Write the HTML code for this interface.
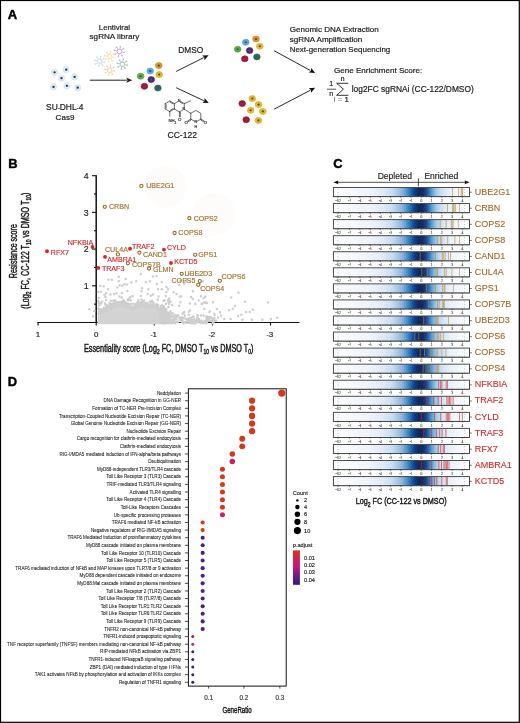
<!DOCTYPE html>
<html><head><meta charset="utf-8"><style>
html,body{margin:0;padding:0;background:#fff;}
body{width:520px;height:723px;overflow:hidden;position:relative;}
svg{position:absolute;left:0;top:0;will-change:transform;}
text{font-family:"Liberation Sans",sans-serif;}
</style></head><body>
<svg width="520" height="723" viewBox="0 0 520 723" font-family="Liberation Sans, sans-serif">
<rect x="0" y="0" width="520" height="723" fill="#fff"/>
<text x="7.70" y="19.00" font-size="13.0" fill="#000" text-anchor="start" stroke="#000" stroke-width="0.45" font-weight="bold" >A</text>
<circle cx="54.6" cy="72.3" r="3.1" fill="#dfeaf8" stroke="#c3d8f0" stroke-width="0.5"/>
<circle cx="54.6" cy="72.3" r="1.15" fill="#262b40"/>
<circle cx="66.2" cy="69.7" r="3.1" fill="#dfeaf8" stroke="#c3d8f0" stroke-width="0.5"/>
<circle cx="66.2" cy="69.7" r="1.15" fill="#262b40"/>
<circle cx="61.5" cy="78.2" r="3.1" fill="#dfeaf8" stroke="#c3d8f0" stroke-width="0.5"/>
<circle cx="61.5" cy="78.2" r="1.15" fill="#262b40"/>
<circle cx="74.6" cy="76.9" r="3.1" fill="#dfeaf8" stroke="#c3d8f0" stroke-width="0.5"/>
<circle cx="74.6" cy="76.9" r="1.15" fill="#262b40"/>
<circle cx="53.5" cy="86.9" r="3.1" fill="#dfeaf8" stroke="#c3d8f0" stroke-width="0.5"/>
<circle cx="53.5" cy="86.9" r="1.15" fill="#262b40"/>
<circle cx="66.9" cy="85.8" r="3.1" fill="#dfeaf8" stroke="#c3d8f0" stroke-width="0.5"/>
<circle cx="66.9" cy="85.8" r="1.15" fill="#262b40"/>
<circle cx="77.7" cy="87.7" r="3.1" fill="#dfeaf8" stroke="#c3d8f0" stroke-width="0.5"/>
<circle cx="77.7" cy="87.7" r="1.15" fill="#262b40"/>
<text x="64.70" y="110.20" font-size="8.3" fill="#222" text-anchor="middle" stroke="#222" stroke-width="0.2" textLength="37.30" lengthAdjust="spacingAndGlyphs" >SU<tspan font-size="6" dy="-0.6">-</tspan><tspan dy="0.6">DHL</tspan><tspan font-size="6" dy="-0.6">-</tspan><tspan dy="0.6">4</tspan></text>
<text x="65.00" y="120.20" font-size="8.1" fill="#222" text-anchor="middle" stroke="#222" stroke-width="0.2" textLength="18.80" lengthAdjust="spacingAndGlyphs" >Cas9</text>
<text x="114.40" y="29.60" font-size="8.0" fill="#222" text-anchor="middle" stroke="#222" stroke-width="0.2" textLength="31.20" lengthAdjust="spacingAndGlyphs" >Lentiviral</text>
<text x="114.40" y="38.80" font-size="8.1" fill="#222" text-anchor="middle" stroke="#222" stroke-width="0.2" textLength="49.70" lengthAdjust="spacingAndGlyphs" >sgRNA library</text>
<circle cx="99.8" cy="61.3" r="2.3" fill="none" stroke="#a9cdef" stroke-width="0.6"/>
<path d="M102.05 61.76L104.31 62.21M104.31 62.21l0.83 -0.35M104.31 62.21l0.63 0.65M101.07 63.22L102.34 65.13M102.34 65.13l0.83 0.34M102.34 65.13l-0.01 0.90M99.34 63.55L98.89 65.81M98.89 65.81l0.35 0.83M98.89 65.81l-0.65 0.63M97.88 62.57L95.97 63.84M95.97 63.84l-0.34 0.83M95.97 63.84l-0.90 -0.01M97.55 60.84L95.29 60.39M95.29 60.39l-0.83 0.35M95.29 60.39l-0.63 -0.65M98.53 59.38L97.26 57.47M97.26 57.47l-0.83 -0.34M97.26 57.47l0.01 -0.90M100.26 59.05L100.71 56.79M100.71 56.79l-0.35 -0.83M100.71 56.79l0.65 -0.63M101.72 60.03L103.63 58.76M103.63 58.76l0.34 -0.83M103.63 58.76l0.90 0.01" stroke="#a9cdef" stroke-width="0.5" fill="none" stroke-linecap="round"/>
<circle cx="109.6" cy="56.7" r="2.3" fill="none" stroke="#f0d28a" stroke-width="0.6"/>
<path d="M111.85 57.16L114.11 57.61M114.11 57.61l0.83 -0.35M114.11 57.61l0.63 0.65M110.87 58.62L112.14 60.53M112.14 60.53l0.83 0.34M112.14 60.53l-0.01 0.90M109.14 58.95L108.69 61.21M108.69 61.21l0.35 0.83M108.69 61.21l-0.65 0.63M107.68 57.97L105.77 59.24M105.77 59.24l-0.34 0.83M105.77 59.24l-0.90 -0.01M107.35 56.24L105.09 55.79M105.09 55.79l-0.83 0.35M105.09 55.79l-0.63 -0.65M108.33 54.78L107.06 52.87M107.06 52.87l-0.83 -0.34M107.06 52.87l0.01 -0.90M110.06 54.45L110.51 52.19M110.51 52.19l-0.35 -0.83M110.51 52.19l0.65 -0.63M111.52 55.43L113.43 54.16M113.43 54.16l0.34 -0.83M113.43 54.16l0.90 0.01" stroke="#f0d28a" stroke-width="0.5" fill="none" stroke-linecap="round"/>
<circle cx="119.4" cy="51.5" r="2.3" fill="none" stroke="#aa8fbe" stroke-width="0.6"/>
<path d="M121.65 51.96L123.91 52.41M123.91 52.41l0.83 -0.35M123.91 52.41l0.63 0.65M120.67 53.42L121.94 55.33M121.94 55.33l0.83 0.34M121.94 55.33l-0.01 0.90M118.94 53.75L118.49 56.01M118.49 56.01l0.35 0.83M118.49 56.01l-0.65 0.63M117.48 52.77L115.57 54.04M115.57 54.04l-0.34 0.83M115.57 54.04l-0.90 -0.01M117.15 51.04L114.89 50.59M114.89 50.59l-0.83 0.35M114.89 50.59l-0.63 -0.65M118.13 49.58L116.86 47.67M116.86 47.67l-0.83 -0.34M116.86 47.67l0.01 -0.90M119.86 49.25L120.31 46.99M120.31 46.99l-0.35 -0.83M120.31 46.99l0.65 -0.63M121.32 50.23L123.23 48.96M123.23 48.96l0.34 -0.83M123.23 48.96l0.90 0.01" stroke="#aa8fbe" stroke-width="0.5" fill="none" stroke-linecap="round"/>
<circle cx="122.3" cy="64.2" r="2.3" fill="none" stroke="#86a596" stroke-width="0.6"/>
<path d="M124.55 64.66L126.81 65.11M126.81 65.11l0.83 -0.35M126.81 65.11l0.63 0.65M123.57 66.12L124.84 68.03M124.84 68.03l0.83 0.34M124.84 68.03l-0.01 0.90M121.84 66.45L121.39 68.71M121.39 68.71l0.35 0.83M121.39 68.71l-0.65 0.63M120.38 65.47L118.47 66.74M118.47 66.74l-0.34 0.83M118.47 66.74l-0.90 -0.01M120.05 63.74L117.79 63.29M117.79 63.29l-0.83 0.35M117.79 63.29l-0.63 -0.65M121.03 62.28L119.76 60.37M119.76 60.37l-0.83 -0.34M119.76 60.37l0.01 -0.90M122.76 61.95L123.21 59.69M123.21 59.69l-0.35 -0.83M123.21 59.69l0.65 -0.63M124.22 62.93L126.13 61.66M126.13 61.66l0.34 -0.83M126.13 61.66l0.90 0.01" stroke="#86a596" stroke-width="0.5" fill="none" stroke-linecap="round"/>
<circle cx="109.6" cy="70.2" r="2.3" fill="none" stroke="#f0bc84" stroke-width="0.6"/>
<path d="M111.85 70.66L114.11 71.11M114.11 71.11l0.83 -0.35M114.11 71.11l0.63 0.65M110.87 72.12L112.14 74.03M112.14 74.03l0.83 0.34M112.14 74.03l-0.01 0.90M109.14 72.45L108.69 74.71M108.69 74.71l0.35 0.83M108.69 74.71l-0.65 0.63M107.68 71.47L105.77 72.74M105.77 72.74l-0.34 0.83M105.77 72.74l-0.90 -0.01M107.35 69.74L105.09 69.29M105.09 69.29l-0.83 0.35M105.09 69.29l-0.63 -0.65M108.33 68.28L107.06 66.37M107.06 66.37l-0.83 -0.34M107.06 66.37l0.01 -0.90M110.06 67.95L110.51 65.69M110.51 65.69l-0.35 -0.83M110.51 65.69l0.65 -0.63M111.52 68.93L113.43 67.66M113.43 67.66l0.34 -0.83M113.43 67.66l0.90 0.01" stroke="#f0bc84" stroke-width="0.5" fill="none" stroke-linecap="round"/>
<line x1="89.8" y1="80.2" x2="126.80" y2="80.20" stroke="#222" stroke-width="1.0"/>
<polygon points="132.3,80.2 126.30,82.80 127.50,80.20 126.30,77.60" fill="#222"/>
<line x1="176.2" y1="71.4" x2="203.68" y2="57.66" stroke="#111" stroke-width="0.9"/>
<polygon points="208.6,55.2 204.40,60.21 204.31,57.35 202.07,55.56" fill="#111"/>
<line x1="176.2" y1="87.7" x2="203.82" y2="100.66" stroke="#111" stroke-width="0.9"/>
<polygon points="208.8,103.0 202.26,102.80 204.45,100.96 204.47,98.10" fill="#111"/>
<line x1="274.1" y1="50.7" x2="310.37" y2="70.47" stroke="#111" stroke-width="0.9"/>
<polygon points="315.2,73.1 308.69,72.51 310.99,70.80 311.18,67.95" fill="#111"/>
<line x1="274.1" y1="109.2" x2="310.33" y2="90.25" stroke="#111" stroke-width="0.9"/>
<polygon points="315.2,87.7 311.09,92.78 310.95,89.92 308.68,88.18" fill="#111"/>
<ellipse cx="158.8" cy="65.6" rx="3.30" ry="3.01" fill="#e8921e" stroke="#e8921e" stroke-width="0.6"/>
<ellipse cx="158.8" cy="65.6" rx="3.30" ry="3.01" fill="none" stroke="#000" stroke-opacity="0.12" stroke-width="0.6"/>
<ellipse cx="158.8" cy="65.6" rx="1.25" ry="1.05" fill="#3a5282"/>
<ellipse cx="150.2" cy="71.0" rx="3.30" ry="3.01" fill="#55ace2" stroke="#55ace2" stroke-width="0.6"/>
<ellipse cx="150.2" cy="71.0" rx="3.30" ry="3.01" fill="none" stroke="#000" stroke-opacity="0.12" stroke-width="0.6"/>
<ellipse cx="150.2" cy="71.0" rx="1.25" ry="1.05" fill="#3a5282"/>
<ellipse cx="159.2" cy="74.6" rx="3.30" ry="3.01" fill="#f2b91c" stroke="#f2b91c" stroke-width="0.6"/>
<ellipse cx="159.2" cy="74.6" rx="3.30" ry="3.01" fill="none" stroke="#000" stroke-opacity="0.12" stroke-width="0.6"/>
<ellipse cx="159.2" cy="74.6" rx="1.25" ry="1.05" fill="#3a5282"/>
<ellipse cx="140.6" cy="76.2" rx="3.30" ry="3.01" fill="#5fae3c" stroke="#5fae3c" stroke-width="0.6"/>
<ellipse cx="140.6" cy="76.2" rx="3.30" ry="3.01" fill="none" stroke="#000" stroke-opacity="0.12" stroke-width="0.6"/>
<ellipse cx="140.6" cy="76.2" rx="1.25" ry="1.05" fill="#3a5282"/>
<ellipse cx="151.2" cy="79.6" rx="3.30" ry="3.01" fill="#5a2670" stroke="#5a2670" stroke-width="0.6"/>
<ellipse cx="151.2" cy="79.6" rx="3.30" ry="3.01" fill="none" stroke="#000" stroke-opacity="0.12" stroke-width="0.6"/>
<ellipse cx="151.2" cy="79.6" rx="1.25" ry="1.05" fill="#3a5282"/>
<ellipse cx="144.4" cy="86.3" rx="3.30" ry="3.01" fill="#b0112e" stroke="#b0112e" stroke-width="0.6"/>
<ellipse cx="144.4" cy="86.3" rx="3.30" ry="3.01" fill="none" stroke="#000" stroke-opacity="0.12" stroke-width="0.6"/>
<ellipse cx="144.4" cy="86.3" rx="1.25" ry="1.05" fill="#3a5282"/>
<ellipse cx="157.9" cy="88.1" rx="3.30" ry="3.01" fill="#2c6a52" stroke="#2c6a52" stroke-width="0.6"/>
<ellipse cx="157.9" cy="88.1" rx="3.30" ry="3.01" fill="none" stroke="#000" stroke-opacity="0.12" stroke-width="0.6"/>
<ellipse cx="157.9" cy="88.1" rx="1.25" ry="1.05" fill="#3a5282"/>
<ellipse cx="256" cy="39" rx="3.30" ry="3.01" fill="#e8921e" stroke="#e8921e" stroke-width="0.6"/>
<ellipse cx="256" cy="39" rx="3.30" ry="3.01" fill="none" stroke="#000" stroke-opacity="0.12" stroke-width="0.6"/>
<ellipse cx="256" cy="39" rx="1.25" ry="1.05" fill="#3a5282"/>
<ellipse cx="245.8" cy="42.3" rx="3.30" ry="3.01" fill="#55ace2" stroke="#55ace2" stroke-width="0.6"/>
<ellipse cx="245.8" cy="42.3" rx="3.30" ry="3.01" fill="none" stroke="#000" stroke-opacity="0.12" stroke-width="0.6"/>
<ellipse cx="245.8" cy="42.3" rx="1.25" ry="1.05" fill="#3a5282"/>
<ellipse cx="259.8" cy="46.2" rx="3.30" ry="3.01" fill="#f2b91c" stroke="#f2b91c" stroke-width="0.6"/>
<ellipse cx="259.8" cy="46.2" rx="3.30" ry="3.01" fill="none" stroke="#000" stroke-opacity="0.12" stroke-width="0.6"/>
<ellipse cx="259.8" cy="46.2" rx="1.25" ry="1.05" fill="#3a5282"/>
<ellipse cx="237.7" cy="49.2" rx="3.30" ry="3.01" fill="#5fae3c" stroke="#5fae3c" stroke-width="0.6"/>
<ellipse cx="237.7" cy="49.2" rx="3.30" ry="3.01" fill="none" stroke="#000" stroke-opacity="0.12" stroke-width="0.6"/>
<ellipse cx="237.7" cy="49.2" rx="1.25" ry="1.05" fill="#3a5282"/>
<ellipse cx="249.6" cy="50.6" rx="3.30" ry="3.01" fill="#5a2670" stroke="#5a2670" stroke-width="0.6"/>
<ellipse cx="249.6" cy="50.6" rx="3.30" ry="3.01" fill="none" stroke="#000" stroke-opacity="0.12" stroke-width="0.6"/>
<ellipse cx="249.6" cy="50.6" rx="1.25" ry="1.05" fill="#3a5282"/>
<ellipse cx="244.8" cy="58.8" rx="3.30" ry="3.01" fill="#b0112e" stroke="#b0112e" stroke-width="0.6"/>
<ellipse cx="244.8" cy="58.8" rx="3.30" ry="3.01" fill="none" stroke="#000" stroke-opacity="0.12" stroke-width="0.6"/>
<ellipse cx="244.8" cy="58.8" rx="1.25" ry="1.05" fill="#3a5282"/>
<ellipse cx="256.9" cy="56.9" rx="3.30" ry="3.01" fill="#2c6a52" stroke="#2c6a52" stroke-width="0.6"/>
<ellipse cx="256.9" cy="56.9" rx="3.30" ry="3.01" fill="none" stroke="#000" stroke-opacity="0.12" stroke-width="0.6"/>
<ellipse cx="256.9" cy="56.9" rx="1.25" ry="1.05" fill="#3a5282"/>
<ellipse cx="252.3" cy="98.6" rx="3.30" ry="3.01" fill="#f2b91c" stroke="#f2b91c" stroke-width="0.6"/>
<ellipse cx="252.3" cy="98.6" rx="3.30" ry="3.01" fill="none" stroke="#000" stroke-opacity="0.12" stroke-width="0.6"/>
<ellipse cx="252.3" cy="98.6" rx="1.25" ry="1.05" fill="#3a5282"/>
<ellipse cx="242.2" cy="103.6" rx="3.30" ry="3.01" fill="#b0112e" stroke="#b0112e" stroke-width="0.6"/>
<ellipse cx="242.2" cy="103.6" rx="3.30" ry="3.01" fill="none" stroke="#000" stroke-opacity="0.12" stroke-width="0.6"/>
<ellipse cx="242.2" cy="103.6" rx="1.25" ry="1.05" fill="#3a5282"/>
<ellipse cx="258.6" cy="104.6" rx="3.30" ry="3.01" fill="#f2b91c" stroke="#f2b91c" stroke-width="0.6"/>
<ellipse cx="258.6" cy="104.6" rx="3.30" ry="3.01" fill="none" stroke="#000" stroke-opacity="0.12" stroke-width="0.6"/>
<ellipse cx="258.6" cy="104.6" rx="1.25" ry="1.05" fill="#3a5282"/>
<ellipse cx="250.7" cy="110.3" rx="3.30" ry="3.01" fill="#f2b91c" stroke="#f2b91c" stroke-width="0.6"/>
<ellipse cx="250.7" cy="110.3" rx="3.30" ry="3.01" fill="none" stroke="#000" stroke-opacity="0.12" stroke-width="0.6"/>
<ellipse cx="250.7" cy="110.3" rx="1.25" ry="1.05" fill="#3a5282"/>
<ellipse cx="262.8" cy="111.4" rx="3.30" ry="3.01" fill="#f2b91c" stroke="#f2b91c" stroke-width="0.6"/>
<ellipse cx="262.8" cy="111.4" rx="3.30" ry="3.01" fill="none" stroke="#000" stroke-opacity="0.12" stroke-width="0.6"/>
<ellipse cx="262.8" cy="111.4" rx="1.25" ry="1.05" fill="#3a5282"/>
<ellipse cx="246.2" cy="119.7" rx="3.30" ry="3.01" fill="#b0112e" stroke="#b0112e" stroke-width="0.6"/>
<ellipse cx="246.2" cy="119.7" rx="3.30" ry="3.01" fill="none" stroke="#000" stroke-opacity="0.12" stroke-width="0.6"/>
<ellipse cx="246.2" cy="119.7" rx="1.25" ry="1.05" fill="#3a5282"/>
<ellipse cx="258.4" cy="120.4" rx="3.30" ry="3.01" fill="#f2b91c" stroke="#f2b91c" stroke-width="0.6"/>
<ellipse cx="258.4" cy="120.4" rx="3.30" ry="3.01" fill="none" stroke="#000" stroke-opacity="0.12" stroke-width="0.6"/>
<ellipse cx="258.4" cy="120.4" rx="1.25" ry="1.05" fill="#3a5282"/>
<text x="178.20" y="53.00" font-size="8.3" fill="#222" text-anchor="start" stroke="#222" stroke-width="0.2" textLength="25.00" lengthAdjust="spacingAndGlyphs" >DMSO</text>
<polyline points="169.80,101.00 174.39,103.65" stroke="#2a2a2a" stroke-width="0.68" fill="none" stroke-linecap="round"/>
<polyline points="174.39,103.65 174.39,108.95" stroke="#2a2a2a" stroke-width="0.68" fill="none" stroke-linecap="round"/>
<polyline points="174.39,108.95 169.80,111.60" stroke="#2a2a2a" stroke-width="0.68" fill="none" stroke-linecap="round"/>
<polyline points="169.80,111.60 165.21,108.95" stroke="#2a2a2a" stroke-width="0.68" fill="none" stroke-linecap="round"/>
<polyline points="165.21,108.95 165.21,103.65" stroke="#2a2a2a" stroke-width="0.68" fill="none" stroke-linecap="round"/>
<polyline points="165.21,103.65 169.80,101.00" stroke="#2a2a2a" stroke-width="0.68" fill="none" stroke-linecap="round"/>
<polyline points="166.11,104.55 166.11,108.05" stroke="#2a2a2a" stroke-width="0.68" fill="none" stroke-linecap="round"/>
<polyline points="170.13,102.23 173.16,103.98" stroke="#2a2a2a" stroke-width="0.68" fill="none" stroke-linecap="round"/>
<polyline points="173.16,108.62 170.13,110.37" stroke="#2a2a2a" stroke-width="0.68" fill="none" stroke-linecap="round"/>
<polyline points="174.55,103.50 178.27,101.35" stroke="#2a2a2a" stroke-width="0.68" fill="none" stroke-linecap="round"/>
<polyline points="180.53,101.35 184.25,103.50" stroke="#2a2a2a" stroke-width="0.68" fill="none" stroke-linecap="round"/>
<polyline points="180.16,102.18 182.59,103.58" stroke="#2a2a2a" stroke-width="0.68" fill="none" stroke-linecap="round"/>
<polyline points="184.25,103.50 184.25,107.80" stroke="#2a2a2a" stroke-width="0.68" fill="none" stroke-linecap="round"/>
<polyline points="183.12,109.75 179.40,111.90" stroke="#2a2a2a" stroke-width="0.68" fill="none" stroke-linecap="round"/>
<polyline points="179.40,111.90 174.55,109.10" stroke="#2a2a2a" stroke-width="0.68" fill="none" stroke-linecap="round"/>
<polyline points="179.40,111.90 179.40,116.90" stroke="#2a2a2a" stroke-width="0.68" fill="none" stroke-linecap="round"/>
<polyline points="180.30,112.40 180.30,116.70" stroke="#2a2a2a" stroke-width="0.68" fill="none" stroke-linecap="round"/>
<polyline points="184.25,103.50 190.60,100.90" stroke="#2a2a2a" stroke-width="0.68" fill="none" stroke-linecap="round"/>
<polyline points="169.80,111.60 169.80,116.20" stroke="#2a2a2a" stroke-width="0.68" fill="none" stroke-linecap="round"/>
<text x="168.60" y="121.90" font-size="4.2" fill="#333" text-anchor="start" stroke="#333" stroke-width="0.2" >NH</text>
<text x="174.60" y="123.60" font-size="3.0" fill="#333" text-anchor="start" stroke="#333" stroke-width="0.2" >2</text>
<text x="179.60" y="121.00" font-size="4.3" fill="#333" text-anchor="middle" stroke="#333" stroke-width="0.2" >O</text>
<text x="179.00" y="102.40" font-size="3.8" fill="#333" text-anchor="middle" stroke="#333" stroke-width="0.2" >N</text>
<text x="183.80" y="110.30" font-size="3.8" fill="#333" text-anchor="middle" stroke="#333" stroke-width="0.2" >N</text>
<polyline points="185.34,109.80 190.78,113.30" stroke="#2a2a2a" stroke-width="0.68" fill="none" stroke-linecap="round"/>
<polyline points="190.78,113.30 195.80,110.40 200.82,113.30 200.82,119.10" stroke="#2a2a2a" stroke-width="0.68" fill="none" stroke-linecap="round"/>
<polyline points="200.82,119.10 196.93,121.35" stroke="#2a2a2a" stroke-width="0.68" fill="none" stroke-linecap="round"/>
<polyline points="194.67,121.35 190.78,119.10" stroke="#2a2a2a" stroke-width="0.68" fill="none" stroke-linecap="round"/>
<polyline points="190.78,119.10 190.78,113.30" stroke="#2a2a2a" stroke-width="0.68" fill="none" stroke-linecap="round"/>
<polyline points="190.78,119.10 187.58,120.99" stroke="#2a2a2a" stroke-width="0.68" fill="none" stroke-linecap="round"/>
<polyline points="190.71,120.21 188.03,121.79" stroke="#2a2a2a" stroke-width="0.68" fill="none" stroke-linecap="round"/>
<polyline points="200.82,119.10 204.02,120.99" stroke="#2a2a2a" stroke-width="0.68" fill="none" stroke-linecap="round"/>
<polyline points="200.89,120.21 203.57,121.79" stroke="#2a2a2a" stroke-width="0.68" fill="none" stroke-linecap="round"/>
<text x="186.08" y="124.10" font-size="4.3" fill="#333" text-anchor="middle" stroke="#333" stroke-width="0.2" >O</text>
<text x="205.52" y="124.10" font-size="4.3" fill="#333" text-anchor="middle" stroke="#333" stroke-width="0.2" >O</text>
<text x="195.80" y="123.40" font-size="3.8" fill="#333" text-anchor="middle" stroke="#333" stroke-width="0.2" >N</text>
<text x="195.80" y="128.40" font-size="3.6" fill="#333" text-anchor="middle" stroke="#333" stroke-width="0.2" >H</text>
<text x="182.20" y="137.70" font-size="8.5" fill="#222" text-anchor="middle" stroke="#222" stroke-width="0.2" textLength="29.40" lengthAdjust="spacingAndGlyphs" >CC-122</text>
<text x="289.70" y="32.30" font-size="8.05" fill="#222" text-anchor="start" stroke="#222" stroke-width="0.2" textLength="89.10" lengthAdjust="spacingAndGlyphs" >Genomic DNA Extraction</text>
<text x="289.70" y="42.20" font-size="8.05" fill="#222" text-anchor="start" stroke="#222" stroke-width="0.2" >sgRNA Amplification</text>
<text x="289.70" y="51.70" font-size="8.0" fill="#222" text-anchor="start" stroke="#222" stroke-width="0.2" textLength="100.60" lengthAdjust="spacingAndGlyphs" >Next-generation Sequencing</text>
<text x="334.00" y="73.20" font-size="8.0" fill="#222" text-anchor="start" stroke="#222" stroke-width="0.2" textLength="88.20" lengthAdjust="spacingAndGlyphs" >Gene Enrichment Score:</text>
<text x="331.30" y="86.40" font-size="7.0" fill="#222" text-anchor="middle" stroke="#222" stroke-width="0.2" >1</text>
<line x1="327.0" y1="89.2" x2="336.0" y2="89.2" stroke="#222" stroke-width="0.75"/>
<text x="331.20" y="96.00" font-size="7.0" fill="#222" text-anchor="middle" stroke="#222" stroke-width="0.2" >n</text>
<text x="342.60" y="81.20" font-size="6.8" fill="#222" text-anchor="middle" stroke="#222" stroke-width="0.2" >n</text>
<polyline points="348.2,83.3 336.6,83.3 343.4,89.2 336.6,95.3 348.4,95.3" fill="none" stroke="#222" stroke-width="0.9"/>
<text x="341.30" y="101.80" font-size="7.0" fill="#222" text-anchor="middle" stroke="#222" stroke-width="0.2" textLength="15.00" lengthAdjust="spacingAndGlyphs" ><tspan fill="#777" stroke="#777">i = </tspan>1</text>
<text x="351.70" y="91.90" font-size="8.4" fill="#222" text-anchor="start" stroke="#222" stroke-width="0.2" textLength="122.10" lengthAdjust="spacingAndGlyphs" >log2FC sgRNAi (CC-122/DMSO)</text>
<text x="8.30" y="167.90" font-size="12.9" fill="#000" text-anchor="start" stroke="#000" stroke-width="0.45" font-weight="bold" >B</text>
<circle cx="165.4" cy="186.5" r="21" fill="#fbf8f4" opacity="0.45"/>
<circle cx="213.5" cy="214.5" r="21.5" fill="#fbf8f4" opacity="0.45"/>
<line x1="94.0" y1="304.15" x2="96.2" y2="304.15" stroke="#111" stroke-width="1.1"/>
<line x1="92.0" y1="285.80" x2="96.2" y2="285.80" stroke="#111" stroke-width="1.1"/>
<text x="88.70" y="288.90" font-size="8.8" fill="#222" text-anchor="end" stroke="#222" stroke-width="0.15" >1</text>
<line x1="94.0" y1="267.45" x2="96.2" y2="267.45" stroke="#111" stroke-width="1.1"/>
<line x1="92.0" y1="249.10" x2="96.2" y2="249.10" stroke="#111" stroke-width="1.1"/>
<text x="88.70" y="252.20" font-size="8.8" fill="#222" text-anchor="end" stroke="#222" stroke-width="0.15" >2</text>
<line x1="94.0" y1="230.75" x2="96.2" y2="230.75" stroke="#111" stroke-width="1.1"/>
<line x1="92.0" y1="212.40" x2="96.2" y2="212.40" stroke="#111" stroke-width="1.1"/>
<text x="88.70" y="215.50" font-size="8.8" fill="#222" text-anchor="end" stroke="#222" stroke-width="0.15" >3</text>
<line x1="94.0" y1="194.05" x2="96.2" y2="194.05" stroke="#111" stroke-width="1.1"/>
<line x1="92.0" y1="175.70" x2="96.2" y2="175.70" stroke="#111" stroke-width="1.1"/>
<text x="88.70" y="178.80" font-size="8.8" fill="#222" text-anchor="end" stroke="#222" stroke-width="0.15" >4</text>
<line x1="96.2" y1="175.3" x2="96.2" y2="323.1" stroke="#111" stroke-width="1.5"/>
<line x1="37.3" y1="322.5" x2="299.4" y2="322.5" stroke="#111" stroke-width="1.2"/>
<line x1="38.10" y1="322.5" x2="38.10" y2="325.5" stroke="#111" stroke-width="1.1"/>
<text x="38.10" y="337.30" font-size="8.0" fill="#222" text-anchor="middle" stroke="#222" stroke-width="0.15" >1</text>
<line x1="96.20" y1="322.5" x2="96.20" y2="325.5" stroke="#111" stroke-width="1.1"/>
<text x="96.20" y="337.30" font-size="8.0" fill="#222" text-anchor="middle" stroke="#222" stroke-width="0.15" >0</text>
<line x1="154.30" y1="322.5" x2="154.30" y2="325.5" stroke="#111" stroke-width="1.1"/>
<text x="153.70" y="337.30" font-size="8.0" fill="#222" text-anchor="middle" stroke="#222" stroke-width="0.15" ><tspan font-size="6.5">-</tspan>1</text>
<line x1="212.40" y1="322.5" x2="212.40" y2="325.5" stroke="#111" stroke-width="1.1"/>
<text x="211.80" y="337.30" font-size="8.0" fill="#222" text-anchor="middle" stroke="#222" stroke-width="0.15" ><tspan font-size="6.5">-</tspan>2</text>
<line x1="270.50" y1="322.5" x2="270.50" y2="325.5" stroke="#111" stroke-width="1.1"/>
<text x="269.90" y="337.30" font-size="8.0" fill="#222" text-anchor="middle" stroke="#222" stroke-width="0.15" ><tspan font-size="6.5">-</tspan>3</text>
<polygon points="97.6,318 98.6,313 100,311 102,312.6 107.5,309.2 114.2,306.5 121,305.2 127.6,307.2 134.4,308.6 141.1,305.2 147.8,307.2 154.6,306.5 161.3,309.9 165,312 168,316 171,320 173,323.8 173,324.2 97.6,324.2" fill="#d3d3d3"/>
<path d="M130.8 304.0h0M131.7 307.0h0M134.8 308.0h0M135.1 308.3h0M143.6 306.5h0M120.0 305.2h0M104.7 310.5h0M101.2 309.6h0M168.9 314.9h0M142.5 305.7h0M109.5 306.5h0M102.5 312.8h0M111.9 308.2h0M131.6 308.3h0M129.9 307.0h0M144.3 304.7h0M134.2 308.1h0M118.2 304.5h0M170.0 315.3h0M149.2 307.7h0M120.9 305.8h0M103.3 310.8h0M153.4 304.0h0M126.0 305.0h0M167.2 315.7h0M113.3 307.6h0M163.7 306.0h0M126.8 306.6h0M103.5 309.9h0M117.6 303.9h0M104.5 309.1h0M152.8 302.6h0M106.7 310.5h0M102.5 312.1h0M155.6 306.6h0M130.4 306.0h0M111.9 308.1h0M144.5 305.9h0M106.6 309.2h0M117.6 305.9h0M168.1 316.3h0M161.9 309.3h0M113.4 304.2h0M144.4 304.3h0M105.4 309.8h0M116.8 306.7h0M153.8 306.5h0M103.5 310.9h0M104.7 310.3h0M141.5 305.3h0M125.0 301.9h0M133.0 307.5h0M139.6 305.8h0M109.3 308.2h0M163.6 311.3h0M111.9 306.7h0M151.4 306.3h0M166.6 314.4h0M161.7 309.1h0M105.7 309.7h0M101.0 311.0h0M148.9 307.5h0M116.7 305.5h0M119.3 303.7h0M110.8 308.5h0M114.6 306.4h0M138.5 305.5h0M118.4 304.1h0M164.2 312.3h0M117.6 306.3h0M130.3 307.3h0M124.8 306.6h0M139.4 305.5h0M162.3 309.8h0M168.8 316.0h0M140.3 303.6h0M108.3 309.3h0M163.7 312.0h0M148.7 307.5h0M144.0 306.8h0M132.9 308.9h0M170.2 317.8h0M103.6 309.0h0M163.0 310.6h0M151.3 306.5h0M164.1 308.5h0M123.5 304.9h0M160.9 306.2h0M128.2 307.0h0M139.4 302.6h0M143.2 304.5h0M142.0 304.3h0M104.0 307.7h0M161.5 305.5h0M150.6 305.0h0M140.0 304.2h0M129.9 308.0h0M152.2 306.8h0M100.3 310.0h0M114.8 305.7h0M148.5 304.9h0M164.5 312.4h0M116.6 305.0h0M147.0 307.6h0M112.8 305.6h0M145.7 303.2h0M130.0 307.0h0M146.1 306.3h0M112.5 304.4h0M164.0 310.6h0M161.6 308.7h0M121.0 304.1h0M108.0 305.6h0M159.3 309.6h0M149.4 306.2h0M110.4 308.3h0M130.6 308.4h0M128.0 306.6h0M143.3 304.7h0M158.6 309.3h0M168.9 317.2h0M100.5 311.9h0M161.0 307.2h0M139.3 306.0h0M120.5 306.0h0M108.0 309.4h0M130.9 304.6h0M115.3 306.5h0M108.3 306.7h0M130.3 307.7h0M143.6 304.5h0M167.2 312.4h0M147.5 307.1h0M111.1 306.2h0M99.0 309.8h0M111.1 307.9h0M117.8 304.7h0M135.7 306.0h0M142.4 306.3h0M155.2 305.4h0M163.4 307.6h0M150.2 305.1h0M107.6 307.0h0M163.7 311.2h0M125.3 303.2h0M155.6 305.9h0M166.2 311.3h0M113.0 307.1h0M150.2 306.4h0M149.9 304.9h0M113.6 302.6h0M168.6 313.9h0M136.9 307.7h0M163.7 310.2h0M159.8 309.4h0M129.9 307.7h0M137.8 307.4h0M100.2 309.5h0M156.5 304.6h0M110.6 307.2h0M122.3 306.1h0M108.9 308.3h0M135.4 308.2h0M147.8 303.8h0M166.3 309.2h0M104.4 311.7h0M114.1 305.5h0M150.7 307.4h0M144.2 302.7h0M138.5 306.7h0M120.6 302.9h0M163.0 308.8h0M113.2 304.3h0M135.9 304.0h0M139.5 306.0h0M134.4 306.8h0M141.8 300.5h0M135.4 307.9h0M127.0 306.9h0M133.6 306.5h0M148.0 305.5h0M128.0 307.0h0M167.1 314.0h0M132.3 308.2h0M107.3 306.4h0M163.0 310.0h0M132.5 308.4h0M142.7 305.2h0M164.8 310.1h0M99.8 309.2h0M112.2 307.6h0M121.4 302.8h0M123.8 306.1h0M150.8 307.0h0M107.0 308.6h0M112.4 307.9h0M136.4 306.4h0M128.0 307.2h0M136.3 307.6h0M143.7 305.5h0M144.2 302.7h0M142.2 305.5h0M159.9 309.6h0M156.6 304.7h0M163.2 311.0h0M164.6 310.8h0M113.9 302.8h0M107.8 309.8h0M115.4 306.8h0M105.2 309.7h0M158.1 305.7h0M107.3 308.3h0M127.2 307.7h0M112.7 307.5h0M147.3 303.0h0M106.5 307.6h0M134.6 309.2h0M147.6 305.3h0M111.8 307.3h0M100.9 312.1h0M137.9 304.8h0M108.8 309.2h0M111.5 307.2h0M169.5 314.8h0M164.9 312.1h0M166.7 314.6h0M131.5 308.6h0M131.8 306.9h0M135.3 306.2h0M99.2 311.7h0M148.7 307.1h0M130.9 307.5h0M151.4 306.4h0M110.1 308.1h0M135.1 304.4h0M155.9 307.5h0M148.9 305.9h0M127.3 305.5h0M141.4 299.8h0M156.1 307.9h0M116.8 303.7h0M154.2 305.4h0M156.9 304.6h0M161.5 308.2h0M148.2 307.6h0M127.4 304.2h0M150.2 305.9h0M132.0 308.0h0M99.0 311.3h0M143.1 304.1h0M114.9 304.1h0M122.5 305.4h0M145.7 304.9h0M126.3 306.4h0M170.2 317.6h0M153.0 304.8h0M168.8 314.8h0M151.4 307.2h0M116.7 306.2h0M112.3 307.7h0M125.2 305.9h0M163.4 310.9h0M137.8 301.9h0M139.1 306.7h0M169.8 316.7h0M103.7 309.3h0M141.2 306.0h0M165.2 312.4h0M109.7 307.8h0M133.9 309.1h0M142.2 301.4h0M128.5 306.3h0M136.1 306.8h0M118.8 305.2h0M145.4 305.6h0M149.8 307.1h0M119.5 304.6h0M101.3 312.7h0M109.5 309.1h0M162.8 309.4h0M152.1 301.3h0M166.2 312.4h0M103.5 310.5h0M132.6 307.7h0M168.3 317.1h0M165.7 311.0h0M150.2 301.8h0M157.0 307.3h0M141.7 303.9h0M131.0 306.7h0M112.9 305.3h0M107.2 309.3h0M130.1 307.3h0M117.1 304.6h0M140.1 303.2h0M136.4 306.5h0M170.0 316.1h0M115.4 306.0h0M106.4 307.7h0M143.2 304.2h0M124.1 306.5h0M138.9 303.8h0M140.8 303.7h0M111.9 305.5h0M116.1 302.1h0M161.5 310.2h0M101.0 311.0h0M128.8 307.6h0M143.1 304.4h0M103.4 310.9h0M104.4 310.7h0M143.6 304.3h0M125.1 305.7h0M122.9 306.4h0M151.8 307.1h0M106.8 309.7h0M156.5 305.6h0M113.5 304.9h0M128.8 308.0h0M124.8 303.1h0M145.3 305.3h0M137.7 307.6h0M151.9 305.5h0M124.8 306.0h0M105.2 310.8h0M104.2 311.4h0M138.8 303.8h0M119.7 305.9h0M154.0 306.0h0M145.9 306.7h0M104.1 310.9h0M148.2 304.6h0M118.6 305.2h0M150.5 306.1h0M124.6 304.5h0M139.2 304.6h0M164.3 307.9h0M129.7 306.6h0M156.0 307.4h0M127.0 306.0h0M165.5 312.1h0M124.2 306.0h0M124.5 305.6h0M126.1 305.9h0M112.2 304.5h0M137.1 306.5h0M158.4 308.0h0M152.8 307.0h0M161.6 310.8h0M135.3 308.5h0M137.4 302.7h0M145.1 304.8h0M156.1 305.5h0M154.9 306.4h0M104.3 308.9h0M162.9 309.9h0M104.3 311.2h0M151.9 306.7h0M144.9 307.1h0M153.3 305.9h0M135.8 308.5h0M122.5 304.3h0M167.9 315.5h0M136.9 305.9h0M150.1 306.5h0M127.8 303.3h0M157.7 306.7h0M156.2 304.4h0M158.2 304.9h0M144.3 303.4h0M135.9 307.6h0M128.6 304.4h0M128.5 306.0h0M169.6 316.0h0M125.2 306.5h0M128.8 307.0h0M119.2 305.6h0M120.4 306.0h0M106.5 308.4h0M111.1 305.5h0M102.7 310.2h0M163.7 311.3h0M100.8 311.4h0M113.9 306.6h0M115.1 306.5h0M114.3 304.4h0M111.5 308.1h0M152.7 306.2h0M120.6 302.2h0M132.7 307.8h0M117.0 303.1h0M122.8 303.4h0M137.6 305.3h0M114.1 306.7h0M101.8 309.5h0M125.9 306.2h0M136.2 306.7h0M169.5 318.6h0M145.5 307.3h0M132.2 308.6h0M125.0 306.2h0M141.8 302.9h0M109.5 308.1h0M116.9 305.2h0M160.8 307.3h0M169.7 318.8h0M117.4 305.5h0M153.7 307.1h0M98.3 313.5h0M157.4 304.9h0M104.1 311.6h0M105.2 308.0h0M132.8 303.7h0M140.4 305.3h0M159.9 308.7h0M128.2 304.5h0M164.2 308.9h0M113.2 305.5h0M137.3 306.6h0M158.1 308.9h0M168.5 322.5h0M168.3 320.9h0M176.3 322.2h0M190.2 318.6h0M161.5 316.9h0M212.1 320.4h0M200.8 323.1h0M171.6 322.6h0M191.8 323.0h0M175.8 315.2h0M160.0 309.7h0M164.4 322.8h0M185.3 322.1h0M180.5 317.8h0M167.9 319.8h0M188.8 318.9h0M166.2 319.9h0M169.3 312.8h0M210.2 316.8h0M169.4 319.2h0M200.6 321.4h0M161.3 321.2h0M189.5 322.6h0M172.8 319.4h0M201.4 321.9h0M165.1 321.8h0M162.8 318.1h0M160.8 318.0h0M208.2 318.7h0M187.4 320.6h0M196.0 321.4h0M169.4 317.3h0M173.3 316.8h0M191.1 323.0h0M213.4 321.9h0M184.8 315.4h0M160.1 320.1h0M187.7 319.1h0M161.5 317.0h0M197.6 319.6h0M200.4 321.5h0M195.9 321.7h0M206.7 319.5h0M178.2 321.8h0M162.4 318.5h0M179.1 305.8h0M192.2 321.8h0M210.2 320.9h0M186.1 322.7h0M165.8 320.6h0M182.8 321.8h0M208.9 319.7h0M170.8 320.1h0M212.7 323.0h0M162.2 315.7h0M181.8 319.3h0M181.8 322.3h0M214.3 313.7h0M199.8 321.6h0M200.4 322.1h0M167.5 319.3h0M182.6 320.9h0M200.9 321.3h0M160.9 314.7h0M160.2 313.9h0M209.8 311.5h0M188.2 320.6h0M193.8 316.5h0M171.8 313.3h0M160.1 315.9h0M164.2 319.5h0M172.0 322.8h0M182.3 320.2h0M166.5 315.8h0M182.3 319.3h0M160.3 313.9h0M189.0 315.1h0M184.3 312.0h0M176.4 315.9h0M190.3 319.6h0M195.3 323.4h0M214.5 318.3h0M201.5 320.7h0M174.5 318.2h0M182.1 317.5h0M179.6 319.3h0M174.4 318.8h0M160.5 319.7h0M192.9 316.8h0M184.1 318.0h0M194.9 321.3h0M160.8 313.9h0M162.0 315.1h0M172.5 320.9h0M160.5 320.3h0M165.6 315.2h0M168.3 319.4h0M160.8 320.1h0M207.4 317.0h0M203.7 322.1h0M173.8 321.9h0M194.5 320.2h0M182.2 321.3h0M197.9 322.3h0M161.9 305.5h0M160.0 319.1h0M165.8 321.5h0M160.7 317.0h0M206.1 321.7h0M170.6 317.2h0M183.4 322.1h0M206.3 323.2h0M168.4 307.1h0M213.0 323.4h0M176.6 322.1h0M208.4 319.9h0M206.2 320.6h0M170.4 311.2h0M176.6 317.3h0M214.6 315.3h0M164.3 320.3h0M204.8 321.3h0M160.5 313.8h0M168.6 316.5h0M206.5 318.6h0M162.2 314.8h0M190.8 318.2h0M160.9 320.3h0M165.0 319.5h0M164.1 312.6h0M163.6 322.5h0M197.8 316.6h0M171.3 316.1h0M183.6 313.2h0M165.2 318.3h0M188.8 311.8h0M167.0 321.5h0M213.5 322.0h0M174.8 315.6h0M160.4 321.8h0M184.3 322.6h0M198.7 320.1h0M161.1 320.7h0M165.8 311.7h0M167.1 319.1h0M206.2 322.6h0M213.9 318.6h0M194.8 322.4h0M171.9 316.3h0M163.5 319.7h0M181.5 320.0h0M188.2 319.4h0M197.2 317.9h0M202.0 322.9h0M190.0 310.6h0M163.3 321.1h0M196.9 320.2h0M165.4 314.9h0M174.8 321.8h0M197.8 315.4h0M165.5 318.4h0M183.0 323.2h0M178.1 315.3h0M192.1 322.0h0M182.5 320.9h0M162.7 320.1h0M160.1 315.3h0M174.9 323.3h0M166.5 322.7h0M207.1 321.8h0M182.3 313.4h0M165.5 320.1h0M162.5 322.7h0M168.6 321.6h0M185.7 319.1h0M183.6 322.8h0M161.1 321.5h0M166.2 319.5h0M162.9 318.4h0M197.5 315.2h0M160.6 317.3h0M164.7 319.8h0M212.4 318.5h0M195.5 322.0h0M213.8 320.4h0M194.3 319.2h0M160.3 322.5h0M162.4 307.8h0M172.3 321.4h0M160.9 315.8h0M160.2 310.5h0M193.5 323.3h0M165.2 323.3h0M165.7 314.3h0M176.0 317.9h0M169.7 320.8h0M213.4 322.5h0M172.9 322.3h0M187.6 318.8h0M190.7 321.8h0M203.6 315.6h0M176.0 316.3h0M172.3 319.9h0M197.1 319.6h0M164.7 320.8h0M181.1 320.4h0M163.0 322.0h0M176.3 319.2h0M168.4 302.5h0M189.6 318.0h0M203.4 322.3h0M160.8 316.3h0M190.5 320.8h0M160.1 318.8h0M163.6 322.9h0M208.4 319.0h0M192.2 322.9h0M162.7 316.5h0M209.5 318.6h0M192.8 316.8h0M207.1 319.6h0M171.9 322.7h0M161.0 318.5h0M196.3 320.6h0M179.3 317.7h0M165.5 321.0h0M160.3 317.5h0M160.2 315.1h0M168.5 315.7h0M162.3 319.2h0M191.6 323.0h0M188.7 314.8h0M162.6 321.8h0M192.0 319.5h0M173.0 313.4h0M165.1 313.9h0M167.7 320.7h0M160.3 319.1h0M160.1 316.7h0M199.2 319.2h0M212.9 321.5h0M208.1 317.1h0M164.7 319.5h0M211.1 317.3h0M203.9 322.9h0M161.2 312.8h0M174.1 321.7h0M171.9 322.0h0M169.3 317.9h0M162.9 323.4h0M172.8 319.5h0M188.6 323.0h0M165.6 318.0h0M173.8 320.2h0M162.7 313.4h0M181.3 318.9h0M191.1 318.4h0M170.9 322.5h0M160.7 321.4h0M177.9 322.3h0M152.9 294.4h0M123.6 300.2h0M98.8 297.9h0M192.8 291.2h0M117.3 287.6h0M110.4 294.4h0M156.5 276.0h0M127.4 290.9h0M199.8 283.7h0M158.0 289.3h0M132.6 296.0h0M118.7 281.3h0M191.1 296.9h0M195.3 303.8h0M106.2 293.2h0M121.9 297.5h0M204.7 302.3h0M110.9 300.7h0M164.6 300.6h0M98.0 292.0h0M130.8 300.5h0M141.9 288.3h0M148.3 289.2h0M149.9 281.3h0M203.6 298.2h0M125.8 279.0h0M122.3 285.8h0M166.6 286.9h0M202.9 281.5h0M108.1 289.3h0M141.6 291.3h0M128.2 299.4h0M173.5 292.3h0M114.9 300.3h0M123.5 301.8h0M144.3 302.7h0M101.0 303.5h0M103.7 286.2h0M104.4 294.9h0M176.6 294.0h0M108.4 279.8h0M189.8 303.6h0M116.5 293.2h0M179.8 296.6h0M169.2 300.2h0M169.2 298.4h0M124.4 284.2h0M186.1 281.4h0M150.7 295.8h0M168.1 289.2h0M184.5 282.5h0M105.4 297.1h0M163.3 300.7h0M110.2 304.0h0M152.9 276.6h0M203.8 302.5h0M165.6 295.9h0M158.5 296.5h0M198.6 274.5h0M100.2 285.9h0M104.9 303.7h0M119.6 285.2h0M207.1 302.8h0M124.0 303.9h0M147.7 293.9h0M128.6 298.8h0M180.4 281.0h0M119.4 296.6h0M156.8 283.9h0M205.3 296.7h0M166.4 291.9h0M180.3 302.3h0M109.4 302.9h0M198.6 300.2h0M141.3 302.7h0M123.4 303.9h0M150.5 302.4h0M157.7 299.7h0M114.1 294.0h0M127.8 300.0h0M100.3 303.5h0M192.9 298.8h0M102.0 301.7h0M140.8 274.1h0M111.8 279.8h0M140.9 296.0h0M181.2 296.5h0M100.7 291.7h0M161.7 289.2h0M118.7 276.7h0M189.0 274.3h0M136.2 281.2h0M170.4 301.8h0M99.0 301.9h0M104.9 303.4h0M127.0 284.4h0M122.0 292.9h0M98.3 301.1h0M202.2 304.0h0M145.9 282.1h0M179.3 285.1h0M131.3 282.4h0M184.0 283.8h0M206.0 303.0h0M201.0 296.3h0M167.9 300.2h0M195.3 303.9h0M151.8 300.8h0M130.2 297.3h0M161.7 282.1h0M125.4 302.2h0M124.6 304.3h0M165.9 304.1h0M105.1 304.0h0M153.6 304.7h0M153.7 302.7h0M149.0 304.9h0M105.9 305.1h0M124.3 303.4h0M98.7 303.0h0M128.3 304.1h0M138.3 300.3h0M113.4 300.7h0M122.1 301.5h0M106.1 300.1h0M130.3 300.2h0M114.5 303.6h0M151.0 304.9h0M118.5 301.9h0M169.1 304.1h0M111.8 303.9h0M172.2 305.1h0M145.6 303.7h0M146.3 304.7h0M144.2 300.7h0M201.7 303.8h0M204.2 309.1h0M213.1 302.2h0M209.5 312.3h0M216.9 309.1h0M220.1 312.3h0M221.2 315.5h0M218.0 317.6h0M224.3 319.1h0M231.3 297.5h0M238.5 292.8h0M234.9 306.0h0M229.2 310.2h0M232.8 309.1h0M245.1 301.7h0M241.3 314.8h0M238.1 316.1h0M246.1 311.9h0M249.7 311.9h0M252.9 309.8h0M251.8 319.7h0M242.3 319.7h0M230.7 319.1h0M262.4 319.7h0M268.1 302.4h0M270.9 319.1h0M277.2 317.8h0M212.7 318.7h0M215.9 320.8h0M208.5 320.8h0M201.0 315.5h0M206.3 316.5h0M89.3 309.2h0M94.2 310.9h0M93.0 316.5h0M98.6 302.0h0M99.2 305.5h0M98.4 308.5h0" stroke="#cecece" stroke-width="2.5" stroke-linecap="round" fill="none"/>
<circle cx="141.4" cy="185.9" r="1.6" fill="#fff" stroke="#8f6c2c" stroke-width="1.1"/>
<circle cx="104.8" cy="206.8" r="1.6" fill="#fff" stroke="#8f6c2c" stroke-width="1.1"/>
<circle cx="189.4" cy="218.2" r="1.6" fill="#fff" stroke="#8f6c2c" stroke-width="1.1"/>
<circle cx="174.6" cy="233.0" r="1.6" fill="#fff" stroke="#8f6c2c" stroke-width="1.1"/>
<circle cx="117.9" cy="254.4" r="1.6" fill="#fff" stroke="#8f6c2c" stroke-width="1.1"/>
<circle cx="139.4" cy="252.7" r="1.6" fill="#fff" stroke="#8f6c2c" stroke-width="1.1"/>
<circle cx="195.2" cy="254.8" r="1.6" fill="#fff" stroke="#8f6c2c" stroke-width="1.1"/>
<circle cx="127.9" cy="263.3" r="1.6" fill="#fff" stroke="#8f6c2c" stroke-width="1.1"/>
<circle cx="149.0" cy="268.5" r="1.6" fill="#fff" stroke="#8f6c2c" stroke-width="1.1"/>
<circle cx="181.7" cy="273.8" r="1.6" fill="#fff" stroke="#8f6c2c" stroke-width="1.1"/>
<circle cx="199.8" cy="281.1" r="1.6" fill="#fff" stroke="#8f6c2c" stroke-width="1.1"/>
<circle cx="198.3" cy="284.8" r="1.6" fill="#fff" stroke="#8f6c2c" stroke-width="1.1"/>
<circle cx="219.8" cy="280.8" r="1.6" fill="#fff" stroke="#8f6c2c" stroke-width="1.1"/>
<circle cx="92.5" cy="247.0" r="1.95" fill="#d42a2a"/>
<circle cx="47.0" cy="251.3" r="1.95" fill="#d42a2a"/>
<circle cx="130.0" cy="248.8" r="1.95" fill="#d42a2a"/>
<circle cx="164.0" cy="249.6" r="1.95" fill="#d42a2a"/>
<circle cx="105.0" cy="256.9" r="1.95" fill="#d42a2a"/>
<circle cx="171.0" cy="263.0" r="1.95" fill="#d42a2a"/>
<circle cx="98.3" cy="267.9" r="1.95" fill="#d42a2a"/>
<text x="146.20" y="188.40" font-size="7.1" fill="#a2722f" text-anchor="start" stroke="#a2722f" stroke-width="0.15" >UBE2G1</text>
<text x="109.00" y="209.40" font-size="7.1" fill="#a2722f" text-anchor="start" stroke="#a2722f" stroke-width="0.15" >CRBN</text>
<text x="193.70" y="220.60" font-size="7.1" fill="#a2722f" text-anchor="start" stroke="#a2722f" stroke-width="0.15" >COPS2</text>
<text x="178.30" y="235.40" font-size="7.1" fill="#a2722f" text-anchor="start" stroke="#a2722f" stroke-width="0.15" >COPS8</text>
<text x="105.00" y="252.20" font-size="7.1" fill="#a2722f" text-anchor="start" stroke="#a2722f" stroke-width="0.15" >CUL4A</text>
<text x="142.90" y="256.80" font-size="7.1" fill="#a2722f" text-anchor="start" stroke="#a2722f" stroke-width="0.15" >CAND1</text>
<text x="198.30" y="257.20" font-size="7.1" fill="#a2722f" text-anchor="start" stroke="#a2722f" stroke-width="0.15" >GPS1</text>
<text x="131.90" y="266.60" font-size="7.1" fill="#a2722f" text-anchor="start" stroke="#a2722f" stroke-width="0.15" >COPS7B</text>
<text x="153.10" y="272.40" font-size="7.1" fill="#a2722f" text-anchor="start" stroke="#a2722f" stroke-width="0.15" >GLMN</text>
<text x="184.60" y="276.20" font-size="7.1" fill="#a2722f" text-anchor="start" stroke="#a2722f" stroke-width="0.15" >UBE2D3</text>
<text x="171.50" y="282.60" font-size="7.1" fill="#a2722f" text-anchor="start" stroke="#a2722f" stroke-width="0.15" >COPS5</text>
<text x="200.20" y="290.90" font-size="7.1" fill="#a2722f" text-anchor="start" stroke="#a2722f" stroke-width="0.15" >COPS4</text>
<text x="221.40" y="279.20" font-size="7.1" fill="#a2722f" text-anchor="start" stroke="#a2722f" stroke-width="0.15" >COPS6</text>
<text x="67.70" y="244.90" font-size="7.1" fill="#d42a2a" text-anchor="start" stroke="#d42a2a" stroke-width="0.15" >NFKBIA</text>
<text x="50.80" y="254.60" font-size="7.1" fill="#d42a2a" text-anchor="start" stroke="#d42a2a" stroke-width="0.15" >RFX7</text>
<text x="131.90" y="248.70" font-size="7.1" fill="#d42a2a" text-anchor="start" stroke="#d42a2a" stroke-width="0.15" >TRAF2</text>
<text x="166.90" y="249.70" font-size="7.1" fill="#d42a2a" text-anchor="start" stroke="#d42a2a" stroke-width="0.15" >CYLD</text>
<text x="107.30" y="261.60" font-size="7.1" fill="#d42a2a" text-anchor="start" stroke="#d42a2a" stroke-width="0.15" >AMBRA1</text>
<text x="174.20" y="264.10" font-size="7.1" fill="#d42a2a" text-anchor="start" stroke="#d42a2a" stroke-width="0.15" >KCTD5</text>
<text x="101.90" y="270.90" font-size="7.1" fill="#d42a2a" text-anchor="start" stroke="#d42a2a" stroke-width="0.15" >TRAF3</text>
<text x="84.00" y="352.20" font-size="10.0" fill="#1a1a1a" text-anchor="start" stroke="#1a1a1a" stroke-width="0.45" textLength="169.40" lengthAdjust="spacingAndGlyphs" >Essentiality score (Log<tspan font-size="6.8" dy="2.2">2</tspan><tspan dy="-2.2"> FC, DMSO T</tspan><tspan font-size="6.8" dy="2.2">10</tspan><tspan dy="-2.2"> vs DMSO T</tspan><tspan font-size="6.8" dy="2.2">0</tspan><tspan dy="-2.2">)</tspan></text>
<g transform="translate(17.1,251.2) rotate(-90)">
<text x="0.00" y="0.00" font-size="10.0" fill="#1a1a1a" text-anchor="middle" stroke="#1a1a1a" stroke-width="0.45" textLength="54.00" lengthAdjust="spacingAndGlyphs" >Resistance score</text>
</g>
<g transform="translate(28.8,250.7) rotate(-90)">
<text x="0.00" y="0.00" font-size="10.0" fill="#1a1a1a" text-anchor="middle" stroke="#1a1a1a" stroke-width="0.45" textLength="116.00" lengthAdjust="spacingAndGlyphs" >(Log<tspan font-size="6.8" dy="2.2">2</tspan><tspan dy="-2.2"> FC, CC-122 T</tspan><tspan font-size="6.8" dy="2.2">10</tspan><tspan dy="-2.2"> vs DMSO T</tspan><tspan font-size="6.8" dy="2.2">10</tspan><tspan dy="-2.2">)</tspan></text>
</g>
<text x="333.20" y="167.70" font-size="12.9" fill="#000" text-anchor="start" stroke="#000" stroke-width="0.45" font-weight="bold" >C</text>
<line x1="336" y1="182.3" x2="467" y2="182.3" stroke="#222" stroke-width="0.8"/>
<polygon points="333.4,182.3 338.2,180.4 338.2,184.2" fill="#111"/>
<polygon points="469.6,182.3 464.8,180.4 464.8,184.2" fill="#111"/>
<line x1="418.4" y1="178.4" x2="418.4" y2="186.2" stroke="#222" stroke-width="0.8"/>
<text x="377.70" y="178.80" font-size="8.5" fill="#222" text-anchor="start" stroke="#222" stroke-width="0.15" textLength="34.20" lengthAdjust="spacingAndGlyphs" >Depleted</text>
<text x="424.40" y="178.80" font-size="8.5" fill="#222" text-anchor="start" stroke="#222" stroke-width="0.15" textLength="33.80" lengthAdjust="spacingAndGlyphs" >Enriched</text>
<defs><linearGradient id="bg" gradientUnits="userSpaceOnUse" x1="333" y1="0" x2="470" y2="0"><stop offset="0.0000" stop-color="#fcfdfe"/><stop offset="0.1387" stop-color="#f6f9fd"/><stop offset="0.2701" stop-color="#eef4fa"/><stop offset="0.3650" stop-color="#e0ebf6"/><stop offset="0.4343" stop-color="#c8dcef"/><stop offset="0.5036" stop-color="#8ab8dc"/><stop offset="0.5328" stop-color="#5a9ad0"/><stop offset="0.5620" stop-color="#2a74bc"/><stop offset="0.5810" stop-color="#0f56a4"/><stop offset="0.6022" stop-color="#0c3a7e"/><stop offset="0.6241" stop-color="#13295e"/><stop offset="0.6533" stop-color="#152a60"/><stop offset="0.6788" stop-color="#1a4486"/><stop offset="0.6978" stop-color="#2a6cb4"/><stop offset="0.7226" stop-color="#60a0d4"/><stop offset="0.7518" stop-color="#a0c8e8"/><stop offset="0.7810" stop-color="#c8dcef"/><stop offset="0.8175" stop-color="#dce8f4"/><stop offset="0.8540" stop-color="#e9f1f9"/><stop offset="0.9124" stop-color="#f2f7fc"/><stop offset="0.9708" stop-color="#fbfdfe"/><stop offset="1.0000" stop-color="#ffffff"/></linearGradient>
<linearGradient id="pa" x1="0" y1="0" x2="0" y2="1"><stop offset="0" stop-color="#d8321e"/><stop offset="0.45" stop-color="#c8187a"/><stop offset="0.75" stop-color="#6a1c8e"/><stop offset="1" stop-color="#2c1a8a"/></linearGradient></defs>
<rect x="333.4" y="187.50" width="136.1" height="9.10" fill="url(#bg)"/>
<line x1="452.5" y1="188.00" x2="452.5" y2="196.00" stroke="#b8893a" stroke-width="0.8" opacity="0.75"/>
<line x1="458.5" y1="188.00" x2="458.5" y2="196.00" stroke="#b8893a" stroke-width="0.8" opacity="0.75"/>
<line x1="461.2" y1="188.00" x2="461.2" y2="196.00" stroke="#b8893a" stroke-width="0.8" opacity="0.75"/>
<line x1="462.0" y1="188.00" x2="462.0" y2="196.00" stroke="#b8893a" stroke-width="0.8" opacity="0.75"/>
<line x1="462.7" y1="188.00" x2="462.7" y2="196.00" stroke="#b8893a" stroke-width="0.8" opacity="0.75"/>
<line x1="338.0" y1="189.00" x2="338.0" y2="195.80" stroke="#8a8a8a" stroke-width="0.55" stroke-dasharray="0.9,2.1"/>
<line x1="464.6" y1="189.00" x2="464.6" y2="195.80" stroke="#8a8a8a" stroke-width="0.55" stroke-dasharray="0.9,2.1"/>
<rect x="333.4" y="187.50" width="136.1" height="9.10" fill="none" stroke="#444" stroke-width="0.95"/>
<line x1="333.4" y1="196.60" x2="469.5" y2="196.60" stroke="#444" stroke-width="0.5"/>
<line x1="469.6" y1="192.20" x2="471.8" y2="192.20" stroke="#333" stroke-width="0.7"/>
<path d="M338.10 196.60v1.1M349.55 196.60v1.1M359.80 196.60v1.1M370.05 196.60v1.1M380.30 196.60v1.1M390.55 196.60v1.1M400.80 196.60v1.1M411.05 196.60v1.1M421.30 196.60v1.1M431.55 196.60v1.1M441.80 196.60v1.1M452.05 196.60v1.1M462.30 196.60v1.1" stroke="#222" stroke-width="0.7"/>
<text x="338.10" y="201.70" font-size="3.7" fill="#444" text-anchor="middle" stroke="#444" stroke-width="0.12" textLength="5.74" lengthAdjust="spacingAndGlyphs" >&#8722;8.2</text>
<text x="349.55" y="201.70" font-size="3.7" fill="#444" text-anchor="middle" stroke="#444" stroke-width="0.12" textLength="2.96" lengthAdjust="spacingAndGlyphs" >&#8722;7</text>
<text x="359.80" y="201.70" font-size="3.7" fill="#444" text-anchor="middle" stroke="#444" stroke-width="0.12" textLength="2.96" lengthAdjust="spacingAndGlyphs" >&#8722;6</text>
<text x="370.05" y="201.70" font-size="3.7" fill="#444" text-anchor="middle" stroke="#444" stroke-width="0.12" textLength="2.96" lengthAdjust="spacingAndGlyphs" >&#8722;5</text>
<text x="380.30" y="201.70" font-size="3.7" fill="#444" text-anchor="middle" stroke="#444" stroke-width="0.12" textLength="2.96" lengthAdjust="spacingAndGlyphs" >&#8722;4</text>
<text x="390.55" y="201.70" font-size="3.7" fill="#444" text-anchor="middle" stroke="#444" stroke-width="0.12" textLength="2.96" lengthAdjust="spacingAndGlyphs" >&#8722;3</text>
<text x="400.80" y="201.70" font-size="3.7" fill="#444" text-anchor="middle" stroke="#444" stroke-width="0.12" textLength="2.96" lengthAdjust="spacingAndGlyphs" >&#8722;2</text>
<text x="411.05" y="201.70" font-size="3.7" fill="#444" text-anchor="middle" stroke="#444" stroke-width="0.12" textLength="2.96" lengthAdjust="spacingAndGlyphs" >&#8722;1</text>
<text x="421.30" y="201.70" font-size="3.7" fill="#444" text-anchor="middle" stroke="#444" stroke-width="0.12" textLength="1.85" lengthAdjust="spacingAndGlyphs" >0</text>
<text x="431.55" y="201.70" font-size="3.7" fill="#444" text-anchor="middle" stroke="#444" stroke-width="0.12" textLength="1.85" lengthAdjust="spacingAndGlyphs" >1</text>
<text x="441.80" y="201.70" font-size="3.7" fill="#444" text-anchor="middle" stroke="#444" stroke-width="0.12" textLength="1.85" lengthAdjust="spacingAndGlyphs" >2</text>
<text x="452.05" y="201.70" font-size="3.7" fill="#444" text-anchor="middle" stroke="#444" stroke-width="0.12" textLength="1.85" lengthAdjust="spacingAndGlyphs" >3</text>
<text x="462.30" y="201.70" font-size="3.7" fill="#444" text-anchor="middle" stroke="#444" stroke-width="0.12" textLength="1.85" lengthAdjust="spacingAndGlyphs" >4</text>
<text x="474.80" y="194.70" font-size="9.0" fill="#a4682a" text-anchor="start" stroke="#a4682a" stroke-width="0.12" >UBE2G1</text>
<rect x="333.4" y="203.56" width="136.1" height="9.10" fill="url(#bg)"/>
<line x1="447.5" y1="204.06" x2="447.5" y2="212.06" stroke="#b8893a" stroke-width="0.8" opacity="0.75"/>
<line x1="452.5" y1="204.06" x2="452.5" y2="212.06" stroke="#b8893a" stroke-width="0.8" opacity="0.75"/>
<line x1="453.4" y1="204.06" x2="453.4" y2="212.06" stroke="#b8893a" stroke-width="0.8" opacity="0.75"/>
<line x1="454.2" y1="204.06" x2="454.2" y2="212.06" stroke="#b8893a" stroke-width="0.8" opacity="0.75"/>
<line x1="455.4" y1="204.06" x2="455.4" y2="212.06" stroke="#b8893a" stroke-width="0.8" opacity="0.75"/>
<line x1="459.4" y1="204.06" x2="459.4" y2="212.06" stroke="#b8893a" stroke-width="0.8" opacity="0.75"/>
<line x1="338.0" y1="205.06" x2="338.0" y2="211.86" stroke="#8a8a8a" stroke-width="0.55" stroke-dasharray="0.9,2.1"/>
<line x1="464.6" y1="205.06" x2="464.6" y2="211.86" stroke="#8a8a8a" stroke-width="0.55" stroke-dasharray="0.9,2.1"/>
<rect x="333.4" y="203.56" width="136.1" height="9.10" fill="none" stroke="#444" stroke-width="0.95"/>
<line x1="333.4" y1="212.66" x2="469.5" y2="212.66" stroke="#444" stroke-width="0.5"/>
<line x1="469.6" y1="208.26" x2="471.8" y2="208.26" stroke="#333" stroke-width="0.7"/>
<path d="M338.10 212.66v1.1M349.55 212.66v1.1M359.80 212.66v1.1M370.05 212.66v1.1M380.30 212.66v1.1M390.55 212.66v1.1M400.80 212.66v1.1M411.05 212.66v1.1M421.30 212.66v1.1M431.55 212.66v1.1M441.80 212.66v1.1M452.05 212.66v1.1M462.30 212.66v1.1" stroke="#222" stroke-width="0.7"/>
<text x="338.10" y="217.76" font-size="3.7" fill="#444" text-anchor="middle" stroke="#444" stroke-width="0.12" textLength="5.74" lengthAdjust="spacingAndGlyphs" >&#8722;8.2</text>
<text x="349.55" y="217.76" font-size="3.7" fill="#444" text-anchor="middle" stroke="#444" stroke-width="0.12" textLength="2.96" lengthAdjust="spacingAndGlyphs" >&#8722;7</text>
<text x="359.80" y="217.76" font-size="3.7" fill="#444" text-anchor="middle" stroke="#444" stroke-width="0.12" textLength="2.96" lengthAdjust="spacingAndGlyphs" >&#8722;6</text>
<text x="370.05" y="217.76" font-size="3.7" fill="#444" text-anchor="middle" stroke="#444" stroke-width="0.12" textLength="2.96" lengthAdjust="spacingAndGlyphs" >&#8722;5</text>
<text x="380.30" y="217.76" font-size="3.7" fill="#444" text-anchor="middle" stroke="#444" stroke-width="0.12" textLength="2.96" lengthAdjust="spacingAndGlyphs" >&#8722;4</text>
<text x="390.55" y="217.76" font-size="3.7" fill="#444" text-anchor="middle" stroke="#444" stroke-width="0.12" textLength="2.96" lengthAdjust="spacingAndGlyphs" >&#8722;3</text>
<text x="400.80" y="217.76" font-size="3.7" fill="#444" text-anchor="middle" stroke="#444" stroke-width="0.12" textLength="2.96" lengthAdjust="spacingAndGlyphs" >&#8722;2</text>
<text x="411.05" y="217.76" font-size="3.7" fill="#444" text-anchor="middle" stroke="#444" stroke-width="0.12" textLength="2.96" lengthAdjust="spacingAndGlyphs" >&#8722;1</text>
<text x="421.30" y="217.76" font-size="3.7" fill="#444" text-anchor="middle" stroke="#444" stroke-width="0.12" textLength="1.85" lengthAdjust="spacingAndGlyphs" >0</text>
<text x="431.55" y="217.76" font-size="3.7" fill="#444" text-anchor="middle" stroke="#444" stroke-width="0.12" textLength="1.85" lengthAdjust="spacingAndGlyphs" >1</text>
<text x="441.80" y="217.76" font-size="3.7" fill="#444" text-anchor="middle" stroke="#444" stroke-width="0.12" textLength="1.85" lengthAdjust="spacingAndGlyphs" >2</text>
<text x="452.05" y="217.76" font-size="3.7" fill="#444" text-anchor="middle" stroke="#444" stroke-width="0.12" textLength="1.85" lengthAdjust="spacingAndGlyphs" >3</text>
<text x="462.30" y="217.76" font-size="3.7" fill="#444" text-anchor="middle" stroke="#444" stroke-width="0.12" textLength="1.85" lengthAdjust="spacingAndGlyphs" >4</text>
<text x="474.80" y="210.76" font-size="9.0" fill="#a4682a" text-anchor="start" stroke="#a4682a" stroke-width="0.12" >CRBN</text>
<rect x="333.4" y="219.62" width="136.1" height="9.10" fill="url(#bg)"/>
<line x1="440.2" y1="220.12" x2="440.2" y2="228.12" stroke="#b8893a" stroke-width="0.8" opacity="0.75"/>
<line x1="446.2" y1="220.12" x2="446.2" y2="228.12" stroke="#b8893a" stroke-width="0.8" opacity="0.75"/>
<line x1="451.3" y1="220.12" x2="451.3" y2="228.12" stroke="#b8893a" stroke-width="0.8" opacity="0.75"/>
<line x1="452.2" y1="220.12" x2="452.2" y2="228.12" stroke="#b8893a" stroke-width="0.8" opacity="0.75"/>
<line x1="453.1" y1="220.12" x2="453.1" y2="228.12" stroke="#b8893a" stroke-width="0.8" opacity="0.75"/>
<line x1="458.3" y1="220.12" x2="458.3" y2="228.12" stroke="#b8893a" stroke-width="0.8" opacity="0.75"/>
<line x1="338.0" y1="221.12" x2="338.0" y2="227.92" stroke="#8a8a8a" stroke-width="0.55" stroke-dasharray="0.9,2.1"/>
<line x1="464.6" y1="221.12" x2="464.6" y2="227.92" stroke="#8a8a8a" stroke-width="0.55" stroke-dasharray="0.9,2.1"/>
<rect x="333.4" y="219.62" width="136.1" height="9.10" fill="none" stroke="#444" stroke-width="0.95"/>
<line x1="333.4" y1="228.72" x2="469.5" y2="228.72" stroke="#444" stroke-width="0.5"/>
<line x1="469.6" y1="224.32" x2="471.8" y2="224.32" stroke="#333" stroke-width="0.7"/>
<path d="M338.10 228.72v1.1M349.55 228.72v1.1M359.80 228.72v1.1M370.05 228.72v1.1M380.30 228.72v1.1M390.55 228.72v1.1M400.80 228.72v1.1M411.05 228.72v1.1M421.30 228.72v1.1M431.55 228.72v1.1M441.80 228.72v1.1M452.05 228.72v1.1M462.30 228.72v1.1" stroke="#222" stroke-width="0.7"/>
<text x="338.10" y="233.82" font-size="3.7" fill="#444" text-anchor="middle" stroke="#444" stroke-width="0.12" textLength="5.74" lengthAdjust="spacingAndGlyphs" >&#8722;8.2</text>
<text x="349.55" y="233.82" font-size="3.7" fill="#444" text-anchor="middle" stroke="#444" stroke-width="0.12" textLength="2.96" lengthAdjust="spacingAndGlyphs" >&#8722;7</text>
<text x="359.80" y="233.82" font-size="3.7" fill="#444" text-anchor="middle" stroke="#444" stroke-width="0.12" textLength="2.96" lengthAdjust="spacingAndGlyphs" >&#8722;6</text>
<text x="370.05" y="233.82" font-size="3.7" fill="#444" text-anchor="middle" stroke="#444" stroke-width="0.12" textLength="2.96" lengthAdjust="spacingAndGlyphs" >&#8722;5</text>
<text x="380.30" y="233.82" font-size="3.7" fill="#444" text-anchor="middle" stroke="#444" stroke-width="0.12" textLength="2.96" lengthAdjust="spacingAndGlyphs" >&#8722;4</text>
<text x="390.55" y="233.82" font-size="3.7" fill="#444" text-anchor="middle" stroke="#444" stroke-width="0.12" textLength="2.96" lengthAdjust="spacingAndGlyphs" >&#8722;3</text>
<text x="400.80" y="233.82" font-size="3.7" fill="#444" text-anchor="middle" stroke="#444" stroke-width="0.12" textLength="2.96" lengthAdjust="spacingAndGlyphs" >&#8722;2</text>
<text x="411.05" y="233.82" font-size="3.7" fill="#444" text-anchor="middle" stroke="#444" stroke-width="0.12" textLength="2.96" lengthAdjust="spacingAndGlyphs" >&#8722;1</text>
<text x="421.30" y="233.82" font-size="3.7" fill="#444" text-anchor="middle" stroke="#444" stroke-width="0.12" textLength="1.85" lengthAdjust="spacingAndGlyphs" >0</text>
<text x="431.55" y="233.82" font-size="3.7" fill="#444" text-anchor="middle" stroke="#444" stroke-width="0.12" textLength="1.85" lengthAdjust="spacingAndGlyphs" >1</text>
<text x="441.80" y="233.82" font-size="3.7" fill="#444" text-anchor="middle" stroke="#444" stroke-width="0.12" textLength="1.85" lengthAdjust="spacingAndGlyphs" >2</text>
<text x="452.05" y="233.82" font-size="3.7" fill="#444" text-anchor="middle" stroke="#444" stroke-width="0.12" textLength="1.85" lengthAdjust="spacingAndGlyphs" >3</text>
<text x="462.30" y="233.82" font-size="3.7" fill="#444" text-anchor="middle" stroke="#444" stroke-width="0.12" textLength="1.85" lengthAdjust="spacingAndGlyphs" >4</text>
<text x="474.80" y="226.82" font-size="9.0" fill="#a4682a" text-anchor="start" stroke="#a4682a" stroke-width="0.12" >COPS2</text>
<rect x="333.4" y="235.68" width="136.1" height="9.10" fill="url(#bg)"/>
<line x1="437.3" y1="236.18" x2="437.3" y2="244.18" stroke="#b8893a" stroke-width="0.8" opacity="0.75"/>
<line x1="440.6" y1="236.18" x2="440.6" y2="244.18" stroke="#b8893a" stroke-width="0.8" opacity="0.75"/>
<line x1="441.8" y1="236.18" x2="441.8" y2="244.18" stroke="#b8893a" stroke-width="0.8" opacity="0.75"/>
<line x1="447.7" y1="236.18" x2="447.7" y2="244.18" stroke="#b8893a" stroke-width="0.8" opacity="0.75"/>
<line x1="454.8" y1="236.18" x2="454.8" y2="244.18" stroke="#b8893a" stroke-width="0.8" opacity="0.75"/>
<line x1="459.4" y1="236.18" x2="459.4" y2="244.18" stroke="#b8893a" stroke-width="0.8" opacity="0.75"/>
<line x1="338.0" y1="237.18" x2="338.0" y2="243.98" stroke="#8a8a8a" stroke-width="0.55" stroke-dasharray="0.9,2.1"/>
<line x1="464.6" y1="237.18" x2="464.6" y2="243.98" stroke="#8a8a8a" stroke-width="0.55" stroke-dasharray="0.9,2.1"/>
<rect x="333.4" y="235.68" width="136.1" height="9.10" fill="none" stroke="#444" stroke-width="0.95"/>
<line x1="333.4" y1="244.78" x2="469.5" y2="244.78" stroke="#444" stroke-width="0.5"/>
<line x1="469.6" y1="240.38" x2="471.8" y2="240.38" stroke="#333" stroke-width="0.7"/>
<path d="M338.10 244.78v1.1M349.55 244.78v1.1M359.80 244.78v1.1M370.05 244.78v1.1M380.30 244.78v1.1M390.55 244.78v1.1M400.80 244.78v1.1M411.05 244.78v1.1M421.30 244.78v1.1M431.55 244.78v1.1M441.80 244.78v1.1M452.05 244.78v1.1M462.30 244.78v1.1" stroke="#222" stroke-width="0.7"/>
<text x="338.10" y="249.88" font-size="3.7" fill="#444" text-anchor="middle" stroke="#444" stroke-width="0.12" textLength="5.74" lengthAdjust="spacingAndGlyphs" >&#8722;8.2</text>
<text x="349.55" y="249.88" font-size="3.7" fill="#444" text-anchor="middle" stroke="#444" stroke-width="0.12" textLength="2.96" lengthAdjust="spacingAndGlyphs" >&#8722;7</text>
<text x="359.80" y="249.88" font-size="3.7" fill="#444" text-anchor="middle" stroke="#444" stroke-width="0.12" textLength="2.96" lengthAdjust="spacingAndGlyphs" >&#8722;6</text>
<text x="370.05" y="249.88" font-size="3.7" fill="#444" text-anchor="middle" stroke="#444" stroke-width="0.12" textLength="2.96" lengthAdjust="spacingAndGlyphs" >&#8722;5</text>
<text x="380.30" y="249.88" font-size="3.7" fill="#444" text-anchor="middle" stroke="#444" stroke-width="0.12" textLength="2.96" lengthAdjust="spacingAndGlyphs" >&#8722;4</text>
<text x="390.55" y="249.88" font-size="3.7" fill="#444" text-anchor="middle" stroke="#444" stroke-width="0.12" textLength="2.96" lengthAdjust="spacingAndGlyphs" >&#8722;3</text>
<text x="400.80" y="249.88" font-size="3.7" fill="#444" text-anchor="middle" stroke="#444" stroke-width="0.12" textLength="2.96" lengthAdjust="spacingAndGlyphs" >&#8722;2</text>
<text x="411.05" y="249.88" font-size="3.7" fill="#444" text-anchor="middle" stroke="#444" stroke-width="0.12" textLength="2.96" lengthAdjust="spacingAndGlyphs" >&#8722;1</text>
<text x="421.30" y="249.88" font-size="3.7" fill="#444" text-anchor="middle" stroke="#444" stroke-width="0.12" textLength="1.85" lengthAdjust="spacingAndGlyphs" >0</text>
<text x="431.55" y="249.88" font-size="3.7" fill="#444" text-anchor="middle" stroke="#444" stroke-width="0.12" textLength="1.85" lengthAdjust="spacingAndGlyphs" >1</text>
<text x="441.80" y="249.88" font-size="3.7" fill="#444" text-anchor="middle" stroke="#444" stroke-width="0.12" textLength="1.85" lengthAdjust="spacingAndGlyphs" >2</text>
<text x="452.05" y="249.88" font-size="3.7" fill="#444" text-anchor="middle" stroke="#444" stroke-width="0.12" textLength="1.85" lengthAdjust="spacingAndGlyphs" >3</text>
<text x="462.30" y="249.88" font-size="3.7" fill="#444" text-anchor="middle" stroke="#444" stroke-width="0.12" textLength="1.85" lengthAdjust="spacingAndGlyphs" >4</text>
<text x="474.80" y="242.88" font-size="9.0" fill="#a4682a" text-anchor="start" stroke="#a4682a" stroke-width="0.12" >COPS8</text>
<rect x="333.4" y="251.74" width="136.1" height="9.10" fill="url(#bg)"/>
<line x1="420.2" y1="252.24" x2="420.2" y2="260.24" stroke="#b8893a" stroke-width="0.8" opacity="0.75"/>
<line x1="435.5" y1="252.24" x2="435.5" y2="260.24" stroke="#b8893a" stroke-width="0.8" opacity="0.75"/>
<line x1="442.3" y1="252.24" x2="442.3" y2="260.24" stroke="#b8893a" stroke-width="0.8" opacity="0.75"/>
<line x1="443.3" y1="252.24" x2="443.3" y2="260.24" stroke="#b8893a" stroke-width="0.8" opacity="0.75"/>
<line x1="445.2" y1="252.24" x2="445.2" y2="260.24" stroke="#b8893a" stroke-width="0.8" opacity="0.75"/>
<line x1="448.5" y1="252.24" x2="448.5" y2="260.24" stroke="#b8893a" stroke-width="0.8" opacity="0.75"/>
<line x1="450.5" y1="252.24" x2="450.5" y2="260.24" stroke="#b8893a" stroke-width="0.8" opacity="0.75"/>
<line x1="338.0" y1="253.24" x2="338.0" y2="260.04" stroke="#8a8a8a" stroke-width="0.55" stroke-dasharray="0.9,2.1"/>
<line x1="464.6" y1="253.24" x2="464.6" y2="260.04" stroke="#8a8a8a" stroke-width="0.55" stroke-dasharray="0.9,2.1"/>
<rect x="333.4" y="251.74" width="136.1" height="9.10" fill="none" stroke="#444" stroke-width="0.95"/>
<line x1="333.4" y1="260.84" x2="469.5" y2="260.84" stroke="#444" stroke-width="0.5"/>
<line x1="469.6" y1="256.44" x2="471.8" y2="256.44" stroke="#333" stroke-width="0.7"/>
<path d="M338.10 260.84v1.1M349.55 260.84v1.1M359.80 260.84v1.1M370.05 260.84v1.1M380.30 260.84v1.1M390.55 260.84v1.1M400.80 260.84v1.1M411.05 260.84v1.1M421.30 260.84v1.1M431.55 260.84v1.1M441.80 260.84v1.1M452.05 260.84v1.1M462.30 260.84v1.1" stroke="#222" stroke-width="0.7"/>
<text x="338.10" y="265.94" font-size="3.7" fill="#444" text-anchor="middle" stroke="#444" stroke-width="0.12" textLength="5.74" lengthAdjust="spacingAndGlyphs" >&#8722;8.2</text>
<text x="349.55" y="265.94" font-size="3.7" fill="#444" text-anchor="middle" stroke="#444" stroke-width="0.12" textLength="2.96" lengthAdjust="spacingAndGlyphs" >&#8722;7</text>
<text x="359.80" y="265.94" font-size="3.7" fill="#444" text-anchor="middle" stroke="#444" stroke-width="0.12" textLength="2.96" lengthAdjust="spacingAndGlyphs" >&#8722;6</text>
<text x="370.05" y="265.94" font-size="3.7" fill="#444" text-anchor="middle" stroke="#444" stroke-width="0.12" textLength="2.96" lengthAdjust="spacingAndGlyphs" >&#8722;5</text>
<text x="380.30" y="265.94" font-size="3.7" fill="#444" text-anchor="middle" stroke="#444" stroke-width="0.12" textLength="2.96" lengthAdjust="spacingAndGlyphs" >&#8722;4</text>
<text x="390.55" y="265.94" font-size="3.7" fill="#444" text-anchor="middle" stroke="#444" stroke-width="0.12" textLength="2.96" lengthAdjust="spacingAndGlyphs" >&#8722;3</text>
<text x="400.80" y="265.94" font-size="3.7" fill="#444" text-anchor="middle" stroke="#444" stroke-width="0.12" textLength="2.96" lengthAdjust="spacingAndGlyphs" >&#8722;2</text>
<text x="411.05" y="265.94" font-size="3.7" fill="#444" text-anchor="middle" stroke="#444" stroke-width="0.12" textLength="2.96" lengthAdjust="spacingAndGlyphs" >&#8722;1</text>
<text x="421.30" y="265.94" font-size="3.7" fill="#444" text-anchor="middle" stroke="#444" stroke-width="0.12" textLength="1.85" lengthAdjust="spacingAndGlyphs" >0</text>
<text x="431.55" y="265.94" font-size="3.7" fill="#444" text-anchor="middle" stroke="#444" stroke-width="0.12" textLength="1.85" lengthAdjust="spacingAndGlyphs" >1</text>
<text x="441.80" y="265.94" font-size="3.7" fill="#444" text-anchor="middle" stroke="#444" stroke-width="0.12" textLength="1.85" lengthAdjust="spacingAndGlyphs" >2</text>
<text x="452.05" y="265.94" font-size="3.7" fill="#444" text-anchor="middle" stroke="#444" stroke-width="0.12" textLength="1.85" lengthAdjust="spacingAndGlyphs" >3</text>
<text x="462.30" y="265.94" font-size="3.7" fill="#444" text-anchor="middle" stroke="#444" stroke-width="0.12" textLength="1.85" lengthAdjust="spacingAndGlyphs" >4</text>
<text x="474.80" y="258.94" font-size="9.0" fill="#a4682a" text-anchor="start" stroke="#a4682a" stroke-width="0.12" >CAND1</text>
<rect x="333.4" y="267.80" width="136.1" height="9.10" fill="url(#bg)"/>
<line x1="421.7" y1="268.30" x2="421.7" y2="276.30" stroke="#b8893a" stroke-width="0.8" opacity="0.75"/>
<line x1="427.3" y1="268.30" x2="427.3" y2="276.30" stroke="#b8893a" stroke-width="0.8" opacity="0.75"/>
<line x1="436.1" y1="268.30" x2="436.1" y2="276.30" stroke="#b8893a" stroke-width="0.8" opacity="0.75"/>
<line x1="437.5" y1="268.30" x2="437.5" y2="276.30" stroke="#b8893a" stroke-width="0.8" opacity="0.75"/>
<line x1="444.4" y1="268.30" x2="444.4" y2="276.30" stroke="#b8893a" stroke-width="0.8" opacity="0.75"/>
<line x1="446.2" y1="268.30" x2="446.2" y2="276.30" stroke="#b8893a" stroke-width="0.8" opacity="0.75"/>
<line x1="451.9" y1="268.30" x2="451.9" y2="276.30" stroke="#b8893a" stroke-width="0.8" opacity="0.75"/>
<line x1="459.4" y1="268.30" x2="459.4" y2="276.30" stroke="#b8893a" stroke-width="0.8" opacity="0.75"/>
<line x1="338.0" y1="269.30" x2="338.0" y2="276.10" stroke="#8a8a8a" stroke-width="0.55" stroke-dasharray="0.9,2.1"/>
<line x1="464.6" y1="269.30" x2="464.6" y2="276.10" stroke="#8a8a8a" stroke-width="0.55" stroke-dasharray="0.9,2.1"/>
<rect x="333.4" y="267.80" width="136.1" height="9.10" fill="none" stroke="#444" stroke-width="0.95"/>
<line x1="333.4" y1="276.90" x2="469.5" y2="276.90" stroke="#444" stroke-width="0.5"/>
<line x1="469.6" y1="272.50" x2="471.8" y2="272.50" stroke="#333" stroke-width="0.7"/>
<path d="M338.10 276.90v1.1M349.55 276.90v1.1M359.80 276.90v1.1M370.05 276.90v1.1M380.30 276.90v1.1M390.55 276.90v1.1M400.80 276.90v1.1M411.05 276.90v1.1M421.30 276.90v1.1M431.55 276.90v1.1M441.80 276.90v1.1M452.05 276.90v1.1M462.30 276.90v1.1" stroke="#222" stroke-width="0.7"/>
<text x="338.10" y="282.00" font-size="3.7" fill="#444" text-anchor="middle" stroke="#444" stroke-width="0.12" textLength="5.74" lengthAdjust="spacingAndGlyphs" >&#8722;8.2</text>
<text x="349.55" y="282.00" font-size="3.7" fill="#444" text-anchor="middle" stroke="#444" stroke-width="0.12" textLength="2.96" lengthAdjust="spacingAndGlyphs" >&#8722;7</text>
<text x="359.80" y="282.00" font-size="3.7" fill="#444" text-anchor="middle" stroke="#444" stroke-width="0.12" textLength="2.96" lengthAdjust="spacingAndGlyphs" >&#8722;6</text>
<text x="370.05" y="282.00" font-size="3.7" fill="#444" text-anchor="middle" stroke="#444" stroke-width="0.12" textLength="2.96" lengthAdjust="spacingAndGlyphs" >&#8722;5</text>
<text x="380.30" y="282.00" font-size="3.7" fill="#444" text-anchor="middle" stroke="#444" stroke-width="0.12" textLength="2.96" lengthAdjust="spacingAndGlyphs" >&#8722;4</text>
<text x="390.55" y="282.00" font-size="3.7" fill="#444" text-anchor="middle" stroke="#444" stroke-width="0.12" textLength="2.96" lengthAdjust="spacingAndGlyphs" >&#8722;3</text>
<text x="400.80" y="282.00" font-size="3.7" fill="#444" text-anchor="middle" stroke="#444" stroke-width="0.12" textLength="2.96" lengthAdjust="spacingAndGlyphs" >&#8722;2</text>
<text x="411.05" y="282.00" font-size="3.7" fill="#444" text-anchor="middle" stroke="#444" stroke-width="0.12" textLength="2.96" lengthAdjust="spacingAndGlyphs" >&#8722;1</text>
<text x="421.30" y="282.00" font-size="3.7" fill="#444" text-anchor="middle" stroke="#444" stroke-width="0.12" textLength="1.85" lengthAdjust="spacingAndGlyphs" >0</text>
<text x="431.55" y="282.00" font-size="3.7" fill="#444" text-anchor="middle" stroke="#444" stroke-width="0.12" textLength="1.85" lengthAdjust="spacingAndGlyphs" >1</text>
<text x="441.80" y="282.00" font-size="3.7" fill="#444" text-anchor="middle" stroke="#444" stroke-width="0.12" textLength="1.85" lengthAdjust="spacingAndGlyphs" >2</text>
<text x="452.05" y="282.00" font-size="3.7" fill="#444" text-anchor="middle" stroke="#444" stroke-width="0.12" textLength="1.85" lengthAdjust="spacingAndGlyphs" >3</text>
<text x="462.30" y="282.00" font-size="3.7" fill="#444" text-anchor="middle" stroke="#444" stroke-width="0.12" textLength="1.85" lengthAdjust="spacingAndGlyphs" >4</text>
<text x="474.80" y="275.00" font-size="9.0" fill="#a4682a" text-anchor="start" stroke="#a4682a" stroke-width="0.12" >CUL4A</text>
<rect x="333.4" y="283.86" width="136.1" height="9.10" fill="url(#bg)"/>
<line x1="426.5" y1="284.36" x2="426.5" y2="292.36" stroke="#b8893a" stroke-width="0.8" opacity="0.75"/>
<line x1="435.5" y1="284.36" x2="435.5" y2="292.36" stroke="#b8893a" stroke-width="0.8" opacity="0.75"/>
<line x1="442.5" y1="284.36" x2="442.5" y2="292.36" stroke="#b8893a" stroke-width="0.8" opacity="0.75"/>
<line x1="444.1" y1="284.36" x2="444.1" y2="292.36" stroke="#b8893a" stroke-width="0.8" opacity="0.75"/>
<line x1="445.0" y1="284.36" x2="445.0" y2="292.36" stroke="#b8893a" stroke-width="0.8" opacity="0.75"/>
<line x1="453.4" y1="284.36" x2="453.4" y2="292.36" stroke="#b8893a" stroke-width="0.8" opacity="0.75"/>
<line x1="338.0" y1="285.36" x2="338.0" y2="292.16" stroke="#8a8a8a" stroke-width="0.55" stroke-dasharray="0.9,2.1"/>
<line x1="464.6" y1="285.36" x2="464.6" y2="292.16" stroke="#8a8a8a" stroke-width="0.55" stroke-dasharray="0.9,2.1"/>
<rect x="333.4" y="283.86" width="136.1" height="9.10" fill="none" stroke="#444" stroke-width="0.95"/>
<line x1="333.4" y1="292.96" x2="469.5" y2="292.96" stroke="#444" stroke-width="0.5"/>
<line x1="469.6" y1="288.56" x2="471.8" y2="288.56" stroke="#333" stroke-width="0.7"/>
<path d="M338.10 292.96v1.1M349.55 292.96v1.1M359.80 292.96v1.1M370.05 292.96v1.1M380.30 292.96v1.1M390.55 292.96v1.1M400.80 292.96v1.1M411.05 292.96v1.1M421.30 292.96v1.1M431.55 292.96v1.1M441.80 292.96v1.1M452.05 292.96v1.1M462.30 292.96v1.1" stroke="#222" stroke-width="0.7"/>
<text x="338.10" y="298.06" font-size="3.7" fill="#444" text-anchor="middle" stroke="#444" stroke-width="0.12" textLength="5.74" lengthAdjust="spacingAndGlyphs" >&#8722;8.2</text>
<text x="349.55" y="298.06" font-size="3.7" fill="#444" text-anchor="middle" stroke="#444" stroke-width="0.12" textLength="2.96" lengthAdjust="spacingAndGlyphs" >&#8722;7</text>
<text x="359.80" y="298.06" font-size="3.7" fill="#444" text-anchor="middle" stroke="#444" stroke-width="0.12" textLength="2.96" lengthAdjust="spacingAndGlyphs" >&#8722;6</text>
<text x="370.05" y="298.06" font-size="3.7" fill="#444" text-anchor="middle" stroke="#444" stroke-width="0.12" textLength="2.96" lengthAdjust="spacingAndGlyphs" >&#8722;5</text>
<text x="380.30" y="298.06" font-size="3.7" fill="#444" text-anchor="middle" stroke="#444" stroke-width="0.12" textLength="2.96" lengthAdjust="spacingAndGlyphs" >&#8722;4</text>
<text x="390.55" y="298.06" font-size="3.7" fill="#444" text-anchor="middle" stroke="#444" stroke-width="0.12" textLength="2.96" lengthAdjust="spacingAndGlyphs" >&#8722;3</text>
<text x="400.80" y="298.06" font-size="3.7" fill="#444" text-anchor="middle" stroke="#444" stroke-width="0.12" textLength="2.96" lengthAdjust="spacingAndGlyphs" >&#8722;2</text>
<text x="411.05" y="298.06" font-size="3.7" fill="#444" text-anchor="middle" stroke="#444" stroke-width="0.12" textLength="2.96" lengthAdjust="spacingAndGlyphs" >&#8722;1</text>
<text x="421.30" y="298.06" font-size="3.7" fill="#444" text-anchor="middle" stroke="#444" stroke-width="0.12" textLength="1.85" lengthAdjust="spacingAndGlyphs" >0</text>
<text x="431.55" y="298.06" font-size="3.7" fill="#444" text-anchor="middle" stroke="#444" stroke-width="0.12" textLength="1.85" lengthAdjust="spacingAndGlyphs" >1</text>
<text x="441.80" y="298.06" font-size="3.7" fill="#444" text-anchor="middle" stroke="#444" stroke-width="0.12" textLength="1.85" lengthAdjust="spacingAndGlyphs" >2</text>
<text x="452.05" y="298.06" font-size="3.7" fill="#444" text-anchor="middle" stroke="#444" stroke-width="0.12" textLength="1.85" lengthAdjust="spacingAndGlyphs" >3</text>
<text x="462.30" y="298.06" font-size="3.7" fill="#444" text-anchor="middle" stroke="#444" stroke-width="0.12" textLength="1.85" lengthAdjust="spacingAndGlyphs" >4</text>
<text x="474.80" y="291.06" font-size="9.0" fill="#a4682a" text-anchor="start" stroke="#a4682a" stroke-width="0.12" >GPS1</text>
<rect x="333.4" y="299.92" width="136.1" height="9.10" fill="url(#bg)"/>
<line x1="428.8" y1="300.42" x2="428.8" y2="308.42" stroke="#b8893a" stroke-width="0.8" opacity="0.75"/>
<line x1="437.5" y1="300.42" x2="437.5" y2="308.42" stroke="#b8893a" stroke-width="0.8" opacity="0.75"/>
<line x1="439.2" y1="300.42" x2="439.2" y2="308.42" stroke="#b8893a" stroke-width="0.8" opacity="0.75"/>
<line x1="442.7" y1="300.42" x2="442.7" y2="308.42" stroke="#b8893a" stroke-width="0.8" opacity="0.75"/>
<line x1="443.5" y1="300.42" x2="443.5" y2="308.42" stroke="#b8893a" stroke-width="0.8" opacity="0.75"/>
<line x1="444.4" y1="300.42" x2="444.4" y2="308.42" stroke="#b8893a" stroke-width="0.8" opacity="0.75"/>
<line x1="338.0" y1="301.42" x2="338.0" y2="308.22" stroke="#8a8a8a" stroke-width="0.55" stroke-dasharray="0.9,2.1"/>
<line x1="464.6" y1="301.42" x2="464.6" y2="308.22" stroke="#8a8a8a" stroke-width="0.55" stroke-dasharray="0.9,2.1"/>
<rect x="333.4" y="299.92" width="136.1" height="9.10" fill="none" stroke="#444" stroke-width="0.95"/>
<line x1="333.4" y1="309.02" x2="469.5" y2="309.02" stroke="#444" stroke-width="0.5"/>
<line x1="469.6" y1="304.62" x2="471.8" y2="304.62" stroke="#333" stroke-width="0.7"/>
<path d="M338.10 309.02v1.1M349.55 309.02v1.1M359.80 309.02v1.1M370.05 309.02v1.1M380.30 309.02v1.1M390.55 309.02v1.1M400.80 309.02v1.1M411.05 309.02v1.1M421.30 309.02v1.1M431.55 309.02v1.1M441.80 309.02v1.1M452.05 309.02v1.1M462.30 309.02v1.1" stroke="#222" stroke-width="0.7"/>
<text x="338.10" y="314.12" font-size="3.7" fill="#444" text-anchor="middle" stroke="#444" stroke-width="0.12" textLength="5.74" lengthAdjust="spacingAndGlyphs" >&#8722;8.2</text>
<text x="349.55" y="314.12" font-size="3.7" fill="#444" text-anchor="middle" stroke="#444" stroke-width="0.12" textLength="2.96" lengthAdjust="spacingAndGlyphs" >&#8722;7</text>
<text x="359.80" y="314.12" font-size="3.7" fill="#444" text-anchor="middle" stroke="#444" stroke-width="0.12" textLength="2.96" lengthAdjust="spacingAndGlyphs" >&#8722;6</text>
<text x="370.05" y="314.12" font-size="3.7" fill="#444" text-anchor="middle" stroke="#444" stroke-width="0.12" textLength="2.96" lengthAdjust="spacingAndGlyphs" >&#8722;5</text>
<text x="380.30" y="314.12" font-size="3.7" fill="#444" text-anchor="middle" stroke="#444" stroke-width="0.12" textLength="2.96" lengthAdjust="spacingAndGlyphs" >&#8722;4</text>
<text x="390.55" y="314.12" font-size="3.7" fill="#444" text-anchor="middle" stroke="#444" stroke-width="0.12" textLength="2.96" lengthAdjust="spacingAndGlyphs" >&#8722;3</text>
<text x="400.80" y="314.12" font-size="3.7" fill="#444" text-anchor="middle" stroke="#444" stroke-width="0.12" textLength="2.96" lengthAdjust="spacingAndGlyphs" >&#8722;2</text>
<text x="411.05" y="314.12" font-size="3.7" fill="#444" text-anchor="middle" stroke="#444" stroke-width="0.12" textLength="2.96" lengthAdjust="spacingAndGlyphs" >&#8722;1</text>
<text x="421.30" y="314.12" font-size="3.7" fill="#444" text-anchor="middle" stroke="#444" stroke-width="0.12" textLength="1.85" lengthAdjust="spacingAndGlyphs" >0</text>
<text x="431.55" y="314.12" font-size="3.7" fill="#444" text-anchor="middle" stroke="#444" stroke-width="0.12" textLength="1.85" lengthAdjust="spacingAndGlyphs" >1</text>
<text x="441.80" y="314.12" font-size="3.7" fill="#444" text-anchor="middle" stroke="#444" stroke-width="0.12" textLength="1.85" lengthAdjust="spacingAndGlyphs" >2</text>
<text x="452.05" y="314.12" font-size="3.7" fill="#444" text-anchor="middle" stroke="#444" stroke-width="0.12" textLength="1.85" lengthAdjust="spacingAndGlyphs" >3</text>
<text x="462.30" y="314.12" font-size="3.7" fill="#444" text-anchor="middle" stroke="#444" stroke-width="0.12" textLength="1.85" lengthAdjust="spacingAndGlyphs" >4</text>
<text x="474.80" y="307.12" font-size="9.0" fill="#a4682a" text-anchor="start" stroke="#a4682a" stroke-width="0.12" >COPS7B</text>
<rect x="333.4" y="315.98" width="136.1" height="9.10" fill="url(#bg)"/>
<line x1="423.7" y1="316.48" x2="423.7" y2="324.48" stroke="#b8893a" stroke-width="0.8" opacity="0.75"/>
<line x1="435.8" y1="316.48" x2="435.8" y2="324.48" stroke="#b8893a" stroke-width="0.8" opacity="0.75"/>
<line x1="437.0" y1="316.48" x2="437.0" y2="324.48" stroke="#b8893a" stroke-width="0.8" opacity="0.75"/>
<line x1="438.1" y1="316.48" x2="438.1" y2="324.48" stroke="#b8893a" stroke-width="0.8" opacity="0.75"/>
<line x1="448.5" y1="316.48" x2="448.5" y2="324.48" stroke="#b8893a" stroke-width="0.8" opacity="0.75"/>
<line x1="338.0" y1="317.48" x2="338.0" y2="324.28" stroke="#8a8a8a" stroke-width="0.55" stroke-dasharray="0.9,2.1"/>
<line x1="464.6" y1="317.48" x2="464.6" y2="324.28" stroke="#8a8a8a" stroke-width="0.55" stroke-dasharray="0.9,2.1"/>
<rect x="333.4" y="315.98" width="136.1" height="9.10" fill="none" stroke="#444" stroke-width="0.95"/>
<line x1="333.4" y1="325.08" x2="469.5" y2="325.08" stroke="#444" stroke-width="0.5"/>
<line x1="469.6" y1="320.68" x2="471.8" y2="320.68" stroke="#333" stroke-width="0.7"/>
<path d="M338.10 325.08v1.1M349.55 325.08v1.1M359.80 325.08v1.1M370.05 325.08v1.1M380.30 325.08v1.1M390.55 325.08v1.1M400.80 325.08v1.1M411.05 325.08v1.1M421.30 325.08v1.1M431.55 325.08v1.1M441.80 325.08v1.1M452.05 325.08v1.1M462.30 325.08v1.1" stroke="#222" stroke-width="0.7"/>
<text x="338.10" y="330.18" font-size="3.7" fill="#444" text-anchor="middle" stroke="#444" stroke-width="0.12" textLength="5.74" lengthAdjust="spacingAndGlyphs" >&#8722;8.2</text>
<text x="349.55" y="330.18" font-size="3.7" fill="#444" text-anchor="middle" stroke="#444" stroke-width="0.12" textLength="2.96" lengthAdjust="spacingAndGlyphs" >&#8722;7</text>
<text x="359.80" y="330.18" font-size="3.7" fill="#444" text-anchor="middle" stroke="#444" stroke-width="0.12" textLength="2.96" lengthAdjust="spacingAndGlyphs" >&#8722;6</text>
<text x="370.05" y="330.18" font-size="3.7" fill="#444" text-anchor="middle" stroke="#444" stroke-width="0.12" textLength="2.96" lengthAdjust="spacingAndGlyphs" >&#8722;5</text>
<text x="380.30" y="330.18" font-size="3.7" fill="#444" text-anchor="middle" stroke="#444" stroke-width="0.12" textLength="2.96" lengthAdjust="spacingAndGlyphs" >&#8722;4</text>
<text x="390.55" y="330.18" font-size="3.7" fill="#444" text-anchor="middle" stroke="#444" stroke-width="0.12" textLength="2.96" lengthAdjust="spacingAndGlyphs" >&#8722;3</text>
<text x="400.80" y="330.18" font-size="3.7" fill="#444" text-anchor="middle" stroke="#444" stroke-width="0.12" textLength="2.96" lengthAdjust="spacingAndGlyphs" >&#8722;2</text>
<text x="411.05" y="330.18" font-size="3.7" fill="#444" text-anchor="middle" stroke="#444" stroke-width="0.12" textLength="2.96" lengthAdjust="spacingAndGlyphs" >&#8722;1</text>
<text x="421.30" y="330.18" font-size="3.7" fill="#444" text-anchor="middle" stroke="#444" stroke-width="0.12" textLength="1.85" lengthAdjust="spacingAndGlyphs" >0</text>
<text x="431.55" y="330.18" font-size="3.7" fill="#444" text-anchor="middle" stroke="#444" stroke-width="0.12" textLength="1.85" lengthAdjust="spacingAndGlyphs" >1</text>
<text x="441.80" y="330.18" font-size="3.7" fill="#444" text-anchor="middle" stroke="#444" stroke-width="0.12" textLength="1.85" lengthAdjust="spacingAndGlyphs" >2</text>
<text x="452.05" y="330.18" font-size="3.7" fill="#444" text-anchor="middle" stroke="#444" stroke-width="0.12" textLength="1.85" lengthAdjust="spacingAndGlyphs" >3</text>
<text x="462.30" y="330.18" font-size="3.7" fill="#444" text-anchor="middle" stroke="#444" stroke-width="0.12" textLength="1.85" lengthAdjust="spacingAndGlyphs" >4</text>
<text x="474.80" y="323.18" font-size="9.0" fill="#a4682a" text-anchor="start" stroke="#a4682a" stroke-width="0.12" >UBE2D3</text>
<rect x="333.4" y="332.04" width="136.1" height="9.10" fill="url(#bg)"/>
<line x1="414.9" y1="332.54" x2="414.9" y2="340.54" stroke="#b8893a" stroke-width="0.8" opacity="0.75"/>
<line x1="418.8" y1="332.54" x2="418.8" y2="340.54" stroke="#b8893a" stroke-width="0.8" opacity="0.75"/>
<line x1="433.9" y1="332.54" x2="433.9" y2="340.54" stroke="#b8893a" stroke-width="0.8" opacity="0.75"/>
<line x1="437.2" y1="332.54" x2="437.2" y2="340.54" stroke="#b8893a" stroke-width="0.8" opacity="0.75"/>
<line x1="438.8" y1="332.54" x2="438.8" y2="340.54" stroke="#b8893a" stroke-width="0.8" opacity="0.75"/>
<line x1="440.4" y1="332.54" x2="440.4" y2="340.54" stroke="#b8893a" stroke-width="0.8" opacity="0.75"/>
<line x1="443.3" y1="332.54" x2="443.3" y2="340.54" stroke="#b8893a" stroke-width="0.8" opacity="0.75"/>
<line x1="338.0" y1="333.54" x2="338.0" y2="340.34" stroke="#8a8a8a" stroke-width="0.55" stroke-dasharray="0.9,2.1"/>
<line x1="464.6" y1="333.54" x2="464.6" y2="340.34" stroke="#8a8a8a" stroke-width="0.55" stroke-dasharray="0.9,2.1"/>
<rect x="333.4" y="332.04" width="136.1" height="9.10" fill="none" stroke="#444" stroke-width="0.95"/>
<line x1="333.4" y1="341.14" x2="469.5" y2="341.14" stroke="#444" stroke-width="0.5"/>
<line x1="469.6" y1="336.74" x2="471.8" y2="336.74" stroke="#333" stroke-width="0.7"/>
<path d="M338.10 341.14v1.1M349.55 341.14v1.1M359.80 341.14v1.1M370.05 341.14v1.1M380.30 341.14v1.1M390.55 341.14v1.1M400.80 341.14v1.1M411.05 341.14v1.1M421.30 341.14v1.1M431.55 341.14v1.1M441.80 341.14v1.1M452.05 341.14v1.1M462.30 341.14v1.1" stroke="#222" stroke-width="0.7"/>
<text x="338.10" y="346.24" font-size="3.7" fill="#444" text-anchor="middle" stroke="#444" stroke-width="0.12" textLength="5.74" lengthAdjust="spacingAndGlyphs" >&#8722;8.2</text>
<text x="349.55" y="346.24" font-size="3.7" fill="#444" text-anchor="middle" stroke="#444" stroke-width="0.12" textLength="2.96" lengthAdjust="spacingAndGlyphs" >&#8722;7</text>
<text x="359.80" y="346.24" font-size="3.7" fill="#444" text-anchor="middle" stroke="#444" stroke-width="0.12" textLength="2.96" lengthAdjust="spacingAndGlyphs" >&#8722;6</text>
<text x="370.05" y="346.24" font-size="3.7" fill="#444" text-anchor="middle" stroke="#444" stroke-width="0.12" textLength="2.96" lengthAdjust="spacingAndGlyphs" >&#8722;5</text>
<text x="380.30" y="346.24" font-size="3.7" fill="#444" text-anchor="middle" stroke="#444" stroke-width="0.12" textLength="2.96" lengthAdjust="spacingAndGlyphs" >&#8722;4</text>
<text x="390.55" y="346.24" font-size="3.7" fill="#444" text-anchor="middle" stroke="#444" stroke-width="0.12" textLength="2.96" lengthAdjust="spacingAndGlyphs" >&#8722;3</text>
<text x="400.80" y="346.24" font-size="3.7" fill="#444" text-anchor="middle" stroke="#444" stroke-width="0.12" textLength="2.96" lengthAdjust="spacingAndGlyphs" >&#8722;2</text>
<text x="411.05" y="346.24" font-size="3.7" fill="#444" text-anchor="middle" stroke="#444" stroke-width="0.12" textLength="2.96" lengthAdjust="spacingAndGlyphs" >&#8722;1</text>
<text x="421.30" y="346.24" font-size="3.7" fill="#444" text-anchor="middle" stroke="#444" stroke-width="0.12" textLength="1.85" lengthAdjust="spacingAndGlyphs" >0</text>
<text x="431.55" y="346.24" font-size="3.7" fill="#444" text-anchor="middle" stroke="#444" stroke-width="0.12" textLength="1.85" lengthAdjust="spacingAndGlyphs" >1</text>
<text x="441.80" y="346.24" font-size="3.7" fill="#444" text-anchor="middle" stroke="#444" stroke-width="0.12" textLength="1.85" lengthAdjust="spacingAndGlyphs" >2</text>
<text x="452.05" y="346.24" font-size="3.7" fill="#444" text-anchor="middle" stroke="#444" stroke-width="0.12" textLength="1.85" lengthAdjust="spacingAndGlyphs" >3</text>
<text x="462.30" y="346.24" font-size="3.7" fill="#444" text-anchor="middle" stroke="#444" stroke-width="0.12" textLength="1.85" lengthAdjust="spacingAndGlyphs" >4</text>
<text x="474.80" y="339.24" font-size="9.0" fill="#a4682a" text-anchor="start" stroke="#a4682a" stroke-width="0.12" >COPS6</text>
<rect x="333.4" y="348.10" width="136.1" height="9.10" fill="url(#bg)"/>
<line x1="420.2" y1="348.60" x2="420.2" y2="356.60" stroke="#b8893a" stroke-width="0.8" opacity="0.75"/>
<line x1="424.5" y1="348.60" x2="424.5" y2="356.60" stroke="#b8893a" stroke-width="0.8" opacity="0.75"/>
<line x1="430.6" y1="348.60" x2="430.6" y2="356.60" stroke="#b8893a" stroke-width="0.8" opacity="0.75"/>
<line x1="432.0" y1="348.60" x2="432.0" y2="356.60" stroke="#b8893a" stroke-width="0.8" opacity="0.75"/>
<line x1="437.2" y1="348.60" x2="437.2" y2="356.60" stroke="#b8893a" stroke-width="0.8" opacity="0.75"/>
<line x1="441.8" y1="348.60" x2="441.8" y2="356.60" stroke="#b8893a" stroke-width="0.8" opacity="0.75"/>
<line x1="445.9" y1="348.60" x2="445.9" y2="356.60" stroke="#b8893a" stroke-width="0.8" opacity="0.75"/>
<line x1="338.0" y1="349.60" x2="338.0" y2="356.40" stroke="#8a8a8a" stroke-width="0.55" stroke-dasharray="0.9,2.1"/>
<line x1="464.6" y1="349.60" x2="464.6" y2="356.40" stroke="#8a8a8a" stroke-width="0.55" stroke-dasharray="0.9,2.1"/>
<rect x="333.4" y="348.10" width="136.1" height="9.10" fill="none" stroke="#444" stroke-width="0.95"/>
<line x1="333.4" y1="357.20" x2="469.5" y2="357.20" stroke="#444" stroke-width="0.5"/>
<line x1="469.6" y1="352.80" x2="471.8" y2="352.80" stroke="#333" stroke-width="0.7"/>
<path d="M338.10 357.20v1.1M349.55 357.20v1.1M359.80 357.20v1.1M370.05 357.20v1.1M380.30 357.20v1.1M390.55 357.20v1.1M400.80 357.20v1.1M411.05 357.20v1.1M421.30 357.20v1.1M431.55 357.20v1.1M441.80 357.20v1.1M452.05 357.20v1.1M462.30 357.20v1.1" stroke="#222" stroke-width="0.7"/>
<text x="338.10" y="362.30" font-size="3.7" fill="#444" text-anchor="middle" stroke="#444" stroke-width="0.12" textLength="5.74" lengthAdjust="spacingAndGlyphs" >&#8722;8.2</text>
<text x="349.55" y="362.30" font-size="3.7" fill="#444" text-anchor="middle" stroke="#444" stroke-width="0.12" textLength="2.96" lengthAdjust="spacingAndGlyphs" >&#8722;7</text>
<text x="359.80" y="362.30" font-size="3.7" fill="#444" text-anchor="middle" stroke="#444" stroke-width="0.12" textLength="2.96" lengthAdjust="spacingAndGlyphs" >&#8722;6</text>
<text x="370.05" y="362.30" font-size="3.7" fill="#444" text-anchor="middle" stroke="#444" stroke-width="0.12" textLength="2.96" lengthAdjust="spacingAndGlyphs" >&#8722;5</text>
<text x="380.30" y="362.30" font-size="3.7" fill="#444" text-anchor="middle" stroke="#444" stroke-width="0.12" textLength="2.96" lengthAdjust="spacingAndGlyphs" >&#8722;4</text>
<text x="390.55" y="362.30" font-size="3.7" fill="#444" text-anchor="middle" stroke="#444" stroke-width="0.12" textLength="2.96" lengthAdjust="spacingAndGlyphs" >&#8722;3</text>
<text x="400.80" y="362.30" font-size="3.7" fill="#444" text-anchor="middle" stroke="#444" stroke-width="0.12" textLength="2.96" lengthAdjust="spacingAndGlyphs" >&#8722;2</text>
<text x="411.05" y="362.30" font-size="3.7" fill="#444" text-anchor="middle" stroke="#444" stroke-width="0.12" textLength="2.96" lengthAdjust="spacingAndGlyphs" >&#8722;1</text>
<text x="421.30" y="362.30" font-size="3.7" fill="#444" text-anchor="middle" stroke="#444" stroke-width="0.12" textLength="1.85" lengthAdjust="spacingAndGlyphs" >0</text>
<text x="431.55" y="362.30" font-size="3.7" fill="#444" text-anchor="middle" stroke="#444" stroke-width="0.12" textLength="1.85" lengthAdjust="spacingAndGlyphs" >1</text>
<text x="441.80" y="362.30" font-size="3.7" fill="#444" text-anchor="middle" stroke="#444" stroke-width="0.12" textLength="1.85" lengthAdjust="spacingAndGlyphs" >2</text>
<text x="452.05" y="362.30" font-size="3.7" fill="#444" text-anchor="middle" stroke="#444" stroke-width="0.12" textLength="1.85" lengthAdjust="spacingAndGlyphs" >3</text>
<text x="462.30" y="362.30" font-size="3.7" fill="#444" text-anchor="middle" stroke="#444" stroke-width="0.12" textLength="1.85" lengthAdjust="spacingAndGlyphs" >4</text>
<text x="474.80" y="355.30" font-size="9.0" fill="#a4682a" text-anchor="start" stroke="#a4682a" stroke-width="0.12" >COPS5</text>
<rect x="333.4" y="364.16" width="136.1" height="9.10" fill="url(#bg)"/>
<line x1="423.1" y1="364.66" x2="423.1" y2="372.66" stroke="#b8893a" stroke-width="0.8" opacity="0.75"/>
<line x1="426.0" y1="364.66" x2="426.0" y2="372.66" stroke="#b8893a" stroke-width="0.8" opacity="0.75"/>
<line x1="428.1" y1="364.66" x2="428.1" y2="372.66" stroke="#b8893a" stroke-width="0.8" opacity="0.75"/>
<line x1="430.6" y1="364.66" x2="430.6" y2="372.66" stroke="#b8893a" stroke-width="0.8" opacity="0.75"/>
<line x1="436.1" y1="364.66" x2="436.1" y2="372.66" stroke="#b8893a" stroke-width="0.8" opacity="0.75"/>
<line x1="437.4" y1="364.66" x2="437.4" y2="372.66" stroke="#b8893a" stroke-width="0.8" opacity="0.75"/>
<line x1="438.7" y1="364.66" x2="438.7" y2="372.66" stroke="#b8893a" stroke-width="0.8" opacity="0.75"/>
<line x1="338.0" y1="365.66" x2="338.0" y2="372.46" stroke="#8a8a8a" stroke-width="0.55" stroke-dasharray="0.9,2.1"/>
<line x1="464.6" y1="365.66" x2="464.6" y2="372.46" stroke="#8a8a8a" stroke-width="0.55" stroke-dasharray="0.9,2.1"/>
<rect x="333.4" y="364.16" width="136.1" height="9.10" fill="none" stroke="#444" stroke-width="0.95"/>
<line x1="333.4" y1="373.26" x2="469.5" y2="373.26" stroke="#444" stroke-width="0.5"/>
<line x1="469.6" y1="368.86" x2="471.8" y2="368.86" stroke="#333" stroke-width="0.7"/>
<path d="M338.10 373.26v1.1M349.55 373.26v1.1M359.80 373.26v1.1M370.05 373.26v1.1M380.30 373.26v1.1M390.55 373.26v1.1M400.80 373.26v1.1M411.05 373.26v1.1M421.30 373.26v1.1M431.55 373.26v1.1M441.80 373.26v1.1M452.05 373.26v1.1M462.30 373.26v1.1" stroke="#222" stroke-width="0.7"/>
<text x="338.10" y="378.36" font-size="3.7" fill="#444" text-anchor="middle" stroke="#444" stroke-width="0.12" textLength="5.74" lengthAdjust="spacingAndGlyphs" >&#8722;8.2</text>
<text x="349.55" y="378.36" font-size="3.7" fill="#444" text-anchor="middle" stroke="#444" stroke-width="0.12" textLength="2.96" lengthAdjust="spacingAndGlyphs" >&#8722;7</text>
<text x="359.80" y="378.36" font-size="3.7" fill="#444" text-anchor="middle" stroke="#444" stroke-width="0.12" textLength="2.96" lengthAdjust="spacingAndGlyphs" >&#8722;6</text>
<text x="370.05" y="378.36" font-size="3.7" fill="#444" text-anchor="middle" stroke="#444" stroke-width="0.12" textLength="2.96" lengthAdjust="spacingAndGlyphs" >&#8722;5</text>
<text x="380.30" y="378.36" font-size="3.7" fill="#444" text-anchor="middle" stroke="#444" stroke-width="0.12" textLength="2.96" lengthAdjust="spacingAndGlyphs" >&#8722;4</text>
<text x="390.55" y="378.36" font-size="3.7" fill="#444" text-anchor="middle" stroke="#444" stroke-width="0.12" textLength="2.96" lengthAdjust="spacingAndGlyphs" >&#8722;3</text>
<text x="400.80" y="378.36" font-size="3.7" fill="#444" text-anchor="middle" stroke="#444" stroke-width="0.12" textLength="2.96" lengthAdjust="spacingAndGlyphs" >&#8722;2</text>
<text x="411.05" y="378.36" font-size="3.7" fill="#444" text-anchor="middle" stroke="#444" stroke-width="0.12" textLength="2.96" lengthAdjust="spacingAndGlyphs" >&#8722;1</text>
<text x="421.30" y="378.36" font-size="3.7" fill="#444" text-anchor="middle" stroke="#444" stroke-width="0.12" textLength="1.85" lengthAdjust="spacingAndGlyphs" >0</text>
<text x="431.55" y="378.36" font-size="3.7" fill="#444" text-anchor="middle" stroke="#444" stroke-width="0.12" textLength="1.85" lengthAdjust="spacingAndGlyphs" >1</text>
<text x="441.80" y="378.36" font-size="3.7" fill="#444" text-anchor="middle" stroke="#444" stroke-width="0.12" textLength="1.85" lengthAdjust="spacingAndGlyphs" >2</text>
<text x="452.05" y="378.36" font-size="3.7" fill="#444" text-anchor="middle" stroke="#444" stroke-width="0.12" textLength="1.85" lengthAdjust="spacingAndGlyphs" >3</text>
<text x="462.30" y="378.36" font-size="3.7" fill="#444" text-anchor="middle" stroke="#444" stroke-width="0.12" textLength="1.85" lengthAdjust="spacingAndGlyphs" >4</text>
<text x="474.80" y="371.36" font-size="9.0" fill="#a4682a" text-anchor="start" stroke="#a4682a" stroke-width="0.12" >COPS4</text>
<rect x="333.4" y="380.22" width="136.1" height="9.10" fill="url(#bg)"/>
<line x1="438.7" y1="380.72" x2="438.7" y2="388.72" stroke="#d42a2e" stroke-width="0.7" opacity="0.92"/>
<line x1="440.4" y1="380.72" x2="440.4" y2="388.72" stroke="#d42a2e" stroke-width="0.7" opacity="0.92"/>
<line x1="441.8" y1="380.72" x2="441.8" y2="388.72" stroke="#d42a2e" stroke-width="0.7" opacity="0.92"/>
<line x1="446.2" y1="380.72" x2="446.2" y2="388.72" stroke="#d42a2e" stroke-width="0.7" opacity="0.92"/>
<line x1="447.6" y1="380.72" x2="447.6" y2="388.72" stroke="#d42a2e" stroke-width="0.7" opacity="0.92"/>
<line x1="338.0" y1="381.72" x2="338.0" y2="388.52" stroke="#8a8a8a" stroke-width="0.55" stroke-dasharray="0.9,2.1"/>
<line x1="464.6" y1="381.72" x2="464.6" y2="388.52" stroke="#8a8a8a" stroke-width="0.55" stroke-dasharray="0.9,2.1"/>
<rect x="333.4" y="380.22" width="136.1" height="9.10" fill="none" stroke="#444" stroke-width="0.95"/>
<line x1="333.4" y1="389.32" x2="469.5" y2="389.32" stroke="#444" stroke-width="0.5"/>
<line x1="469.6" y1="384.92" x2="471.8" y2="384.92" stroke="#333" stroke-width="0.7"/>
<path d="M338.10 389.32v1.1M349.55 389.32v1.1M359.80 389.32v1.1M370.05 389.32v1.1M380.30 389.32v1.1M390.55 389.32v1.1M400.80 389.32v1.1M411.05 389.32v1.1M421.30 389.32v1.1M431.55 389.32v1.1M441.80 389.32v1.1M452.05 389.32v1.1M462.30 389.32v1.1" stroke="#222" stroke-width="0.7"/>
<text x="338.10" y="394.42" font-size="3.7" fill="#444" text-anchor="middle" stroke="#444" stroke-width="0.12" textLength="5.74" lengthAdjust="spacingAndGlyphs" >&#8722;8.2</text>
<text x="349.55" y="394.42" font-size="3.7" fill="#444" text-anchor="middle" stroke="#444" stroke-width="0.12" textLength="2.96" lengthAdjust="spacingAndGlyphs" >&#8722;7</text>
<text x="359.80" y="394.42" font-size="3.7" fill="#444" text-anchor="middle" stroke="#444" stroke-width="0.12" textLength="2.96" lengthAdjust="spacingAndGlyphs" >&#8722;6</text>
<text x="370.05" y="394.42" font-size="3.7" fill="#444" text-anchor="middle" stroke="#444" stroke-width="0.12" textLength="2.96" lengthAdjust="spacingAndGlyphs" >&#8722;5</text>
<text x="380.30" y="394.42" font-size="3.7" fill="#444" text-anchor="middle" stroke="#444" stroke-width="0.12" textLength="2.96" lengthAdjust="spacingAndGlyphs" >&#8722;4</text>
<text x="390.55" y="394.42" font-size="3.7" fill="#444" text-anchor="middle" stroke="#444" stroke-width="0.12" textLength="2.96" lengthAdjust="spacingAndGlyphs" >&#8722;3</text>
<text x="400.80" y="394.42" font-size="3.7" fill="#444" text-anchor="middle" stroke="#444" stroke-width="0.12" textLength="2.96" lengthAdjust="spacingAndGlyphs" >&#8722;2</text>
<text x="411.05" y="394.42" font-size="3.7" fill="#444" text-anchor="middle" stroke="#444" stroke-width="0.12" textLength="2.96" lengthAdjust="spacingAndGlyphs" >&#8722;1</text>
<text x="421.30" y="394.42" font-size="3.7" fill="#444" text-anchor="middle" stroke="#444" stroke-width="0.12" textLength="1.85" lengthAdjust="spacingAndGlyphs" >0</text>
<text x="431.55" y="394.42" font-size="3.7" fill="#444" text-anchor="middle" stroke="#444" stroke-width="0.12" textLength="1.85" lengthAdjust="spacingAndGlyphs" >1</text>
<text x="441.80" y="394.42" font-size="3.7" fill="#444" text-anchor="middle" stroke="#444" stroke-width="0.12" textLength="1.85" lengthAdjust="spacingAndGlyphs" >2</text>
<text x="452.05" y="394.42" font-size="3.7" fill="#444" text-anchor="middle" stroke="#444" stroke-width="0.12" textLength="1.85" lengthAdjust="spacingAndGlyphs" >3</text>
<text x="462.30" y="394.42" font-size="3.7" fill="#444" text-anchor="middle" stroke="#444" stroke-width="0.12" textLength="1.85" lengthAdjust="spacingAndGlyphs" >4</text>
<text x="474.80" y="387.42" font-size="9.0" fill="#d02c2c" text-anchor="start" stroke="#d02c2c" stroke-width="0.12" >NFKBIA</text>
<rect x="333.4" y="396.28" width="136.1" height="9.10" fill="url(#bg)"/>
<line x1="426.7" y1="396.78" x2="426.7" y2="404.78" stroke="#d42a2e" stroke-width="0.7" opacity="0.92"/>
<line x1="433.6" y1="396.78" x2="433.6" y2="404.78" stroke="#d42a2e" stroke-width="0.7" opacity="0.92"/>
<line x1="438.2" y1="396.78" x2="438.2" y2="404.78" stroke="#d42a2e" stroke-width="0.7" opacity="0.92"/>
<line x1="441.5" y1="396.78" x2="441.5" y2="404.78" stroke="#d42a2e" stroke-width="0.7" opacity="0.92"/>
<line x1="446.9" y1="396.78" x2="446.9" y2="404.78" stroke="#d42a2e" stroke-width="0.7" opacity="0.92"/>
<line x1="448.2" y1="396.78" x2="448.2" y2="404.78" stroke="#d42a2e" stroke-width="0.7" opacity="0.92"/>
<line x1="449.5" y1="396.78" x2="449.5" y2="404.78" stroke="#d42a2e" stroke-width="0.7" opacity="0.92"/>
<line x1="450.8" y1="396.78" x2="450.8" y2="404.78" stroke="#d42a2e" stroke-width="0.7" opacity="0.92"/>
<line x1="453.1" y1="396.78" x2="453.1" y2="404.78" stroke="#d42a2e" stroke-width="0.7" opacity="0.92"/>
<line x1="338.0" y1="397.78" x2="338.0" y2="404.58" stroke="#8a8a8a" stroke-width="0.55" stroke-dasharray="0.9,2.1"/>
<line x1="464.6" y1="397.78" x2="464.6" y2="404.58" stroke="#8a8a8a" stroke-width="0.55" stroke-dasharray="0.9,2.1"/>
<rect x="333.4" y="396.28" width="136.1" height="9.10" fill="none" stroke="#444" stroke-width="0.95"/>
<line x1="333.4" y1="405.38" x2="469.5" y2="405.38" stroke="#444" stroke-width="0.5"/>
<line x1="469.6" y1="400.98" x2="471.8" y2="400.98" stroke="#333" stroke-width="0.7"/>
<path d="M338.10 405.38v1.1M349.55 405.38v1.1M359.80 405.38v1.1M370.05 405.38v1.1M380.30 405.38v1.1M390.55 405.38v1.1M400.80 405.38v1.1M411.05 405.38v1.1M421.30 405.38v1.1M431.55 405.38v1.1M441.80 405.38v1.1M452.05 405.38v1.1M462.30 405.38v1.1" stroke="#222" stroke-width="0.7"/>
<text x="338.10" y="410.48" font-size="3.7" fill="#444" text-anchor="middle" stroke="#444" stroke-width="0.12" textLength="5.74" lengthAdjust="spacingAndGlyphs" >&#8722;8.2</text>
<text x="349.55" y="410.48" font-size="3.7" fill="#444" text-anchor="middle" stroke="#444" stroke-width="0.12" textLength="2.96" lengthAdjust="spacingAndGlyphs" >&#8722;7</text>
<text x="359.80" y="410.48" font-size="3.7" fill="#444" text-anchor="middle" stroke="#444" stroke-width="0.12" textLength="2.96" lengthAdjust="spacingAndGlyphs" >&#8722;6</text>
<text x="370.05" y="410.48" font-size="3.7" fill="#444" text-anchor="middle" stroke="#444" stroke-width="0.12" textLength="2.96" lengthAdjust="spacingAndGlyphs" >&#8722;5</text>
<text x="380.30" y="410.48" font-size="3.7" fill="#444" text-anchor="middle" stroke="#444" stroke-width="0.12" textLength="2.96" lengthAdjust="spacingAndGlyphs" >&#8722;4</text>
<text x="390.55" y="410.48" font-size="3.7" fill="#444" text-anchor="middle" stroke="#444" stroke-width="0.12" textLength="2.96" lengthAdjust="spacingAndGlyphs" >&#8722;3</text>
<text x="400.80" y="410.48" font-size="3.7" fill="#444" text-anchor="middle" stroke="#444" stroke-width="0.12" textLength="2.96" lengthAdjust="spacingAndGlyphs" >&#8722;2</text>
<text x="411.05" y="410.48" font-size="3.7" fill="#444" text-anchor="middle" stroke="#444" stroke-width="0.12" textLength="2.96" lengthAdjust="spacingAndGlyphs" >&#8722;1</text>
<text x="421.30" y="410.48" font-size="3.7" fill="#444" text-anchor="middle" stroke="#444" stroke-width="0.12" textLength="1.85" lengthAdjust="spacingAndGlyphs" >0</text>
<text x="431.55" y="410.48" font-size="3.7" fill="#444" text-anchor="middle" stroke="#444" stroke-width="0.12" textLength="1.85" lengthAdjust="spacingAndGlyphs" >1</text>
<text x="441.80" y="410.48" font-size="3.7" fill="#444" text-anchor="middle" stroke="#444" stroke-width="0.12" textLength="1.85" lengthAdjust="spacingAndGlyphs" >2</text>
<text x="452.05" y="410.48" font-size="3.7" fill="#444" text-anchor="middle" stroke="#444" stroke-width="0.12" textLength="1.85" lengthAdjust="spacingAndGlyphs" >3</text>
<text x="462.30" y="410.48" font-size="3.7" fill="#444" text-anchor="middle" stroke="#444" stroke-width="0.12" textLength="1.85" lengthAdjust="spacingAndGlyphs" >4</text>
<text x="474.80" y="403.48" font-size="9.0" fill="#d02c2c" text-anchor="start" stroke="#d02c2c" stroke-width="0.12" >TRAF2</text>
<rect x="333.4" y="412.34" width="136.1" height="9.10" fill="url(#bg)"/>
<line x1="421.3" y1="412.84" x2="421.3" y2="420.84" stroke="#d42a2e" stroke-width="0.7" opacity="0.92"/>
<line x1="434.6" y1="412.84" x2="434.6" y2="420.84" stroke="#d42a2e" stroke-width="0.7" opacity="0.92"/>
<line x1="440.7" y1="412.84" x2="440.7" y2="420.84" stroke="#d42a2e" stroke-width="0.7" opacity="0.92"/>
<line x1="446.2" y1="412.84" x2="446.2" y2="420.84" stroke="#d42a2e" stroke-width="0.7" opacity="0.92"/>
<line x1="447.4" y1="412.84" x2="447.4" y2="420.84" stroke="#d42a2e" stroke-width="0.7" opacity="0.92"/>
<line x1="448.6" y1="412.84" x2="448.6" y2="420.84" stroke="#d42a2e" stroke-width="0.7" opacity="0.92"/>
<line x1="449.8" y1="412.84" x2="449.8" y2="420.84" stroke="#d42a2e" stroke-width="0.7" opacity="0.92"/>
<line x1="459.4" y1="412.84" x2="459.4" y2="420.84" stroke="#d42a2e" stroke-width="0.7" opacity="0.92"/>
<line x1="462.3" y1="412.84" x2="462.3" y2="420.84" stroke="#d42a2e" stroke-width="0.7" opacity="0.92"/>
<line x1="338.0" y1="413.84" x2="338.0" y2="420.64" stroke="#8a8a8a" stroke-width="0.55" stroke-dasharray="0.9,2.1"/>
<line x1="464.6" y1="413.84" x2="464.6" y2="420.64" stroke="#8a8a8a" stroke-width="0.55" stroke-dasharray="0.9,2.1"/>
<rect x="333.4" y="412.34" width="136.1" height="9.10" fill="none" stroke="#444" stroke-width="0.95"/>
<line x1="333.4" y1="421.44" x2="469.5" y2="421.44" stroke="#444" stroke-width="0.5"/>
<line x1="469.6" y1="417.04" x2="471.8" y2="417.04" stroke="#333" stroke-width="0.7"/>
<path d="M338.10 421.44v1.1M349.55 421.44v1.1M359.80 421.44v1.1M370.05 421.44v1.1M380.30 421.44v1.1M390.55 421.44v1.1M400.80 421.44v1.1M411.05 421.44v1.1M421.30 421.44v1.1M431.55 421.44v1.1M441.80 421.44v1.1M452.05 421.44v1.1M462.30 421.44v1.1" stroke="#222" stroke-width="0.7"/>
<text x="338.10" y="426.54" font-size="3.7" fill="#444" text-anchor="middle" stroke="#444" stroke-width="0.12" textLength="5.74" lengthAdjust="spacingAndGlyphs" >&#8722;8.2</text>
<text x="349.55" y="426.54" font-size="3.7" fill="#444" text-anchor="middle" stroke="#444" stroke-width="0.12" textLength="2.96" lengthAdjust="spacingAndGlyphs" >&#8722;7</text>
<text x="359.80" y="426.54" font-size="3.7" fill="#444" text-anchor="middle" stroke="#444" stroke-width="0.12" textLength="2.96" lengthAdjust="spacingAndGlyphs" >&#8722;6</text>
<text x="370.05" y="426.54" font-size="3.7" fill="#444" text-anchor="middle" stroke="#444" stroke-width="0.12" textLength="2.96" lengthAdjust="spacingAndGlyphs" >&#8722;5</text>
<text x="380.30" y="426.54" font-size="3.7" fill="#444" text-anchor="middle" stroke="#444" stroke-width="0.12" textLength="2.96" lengthAdjust="spacingAndGlyphs" >&#8722;4</text>
<text x="390.55" y="426.54" font-size="3.7" fill="#444" text-anchor="middle" stroke="#444" stroke-width="0.12" textLength="2.96" lengthAdjust="spacingAndGlyphs" >&#8722;3</text>
<text x="400.80" y="426.54" font-size="3.7" fill="#444" text-anchor="middle" stroke="#444" stroke-width="0.12" textLength="2.96" lengthAdjust="spacingAndGlyphs" >&#8722;2</text>
<text x="411.05" y="426.54" font-size="3.7" fill="#444" text-anchor="middle" stroke="#444" stroke-width="0.12" textLength="2.96" lengthAdjust="spacingAndGlyphs" >&#8722;1</text>
<text x="421.30" y="426.54" font-size="3.7" fill="#444" text-anchor="middle" stroke="#444" stroke-width="0.12" textLength="1.85" lengthAdjust="spacingAndGlyphs" >0</text>
<text x="431.55" y="426.54" font-size="3.7" fill="#444" text-anchor="middle" stroke="#444" stroke-width="0.12" textLength="1.85" lengthAdjust="spacingAndGlyphs" >1</text>
<text x="441.80" y="426.54" font-size="3.7" fill="#444" text-anchor="middle" stroke="#444" stroke-width="0.12" textLength="1.85" lengthAdjust="spacingAndGlyphs" >2</text>
<text x="452.05" y="426.54" font-size="3.7" fill="#444" text-anchor="middle" stroke="#444" stroke-width="0.12" textLength="1.85" lengthAdjust="spacingAndGlyphs" >3</text>
<text x="462.30" y="426.54" font-size="3.7" fill="#444" text-anchor="middle" stroke="#444" stroke-width="0.12" textLength="1.85" lengthAdjust="spacingAndGlyphs" >4</text>
<text x="474.80" y="419.54" font-size="9.0" fill="#d02c2c" text-anchor="start" stroke="#d02c2c" stroke-width="0.12" >CYLD</text>
<rect x="333.4" y="428.40" width="136.1" height="9.10" fill="url(#bg)"/>
<line x1="423.8" y1="428.90" x2="423.8" y2="436.90" stroke="#d42a2e" stroke-width="0.7" opacity="0.92"/>
<line x1="431.4" y1="428.90" x2="431.4" y2="436.90" stroke="#d42a2e" stroke-width="0.7" opacity="0.92"/>
<line x1="436.3" y1="428.90" x2="436.3" y2="436.90" stroke="#d42a2e" stroke-width="0.7" opacity="0.92"/>
<line x1="439.7" y1="428.90" x2="439.7" y2="436.90" stroke="#d42a2e" stroke-width="0.7" opacity="0.92"/>
<line x1="442.1" y1="428.90" x2="442.1" y2="436.90" stroke="#d42a2e" stroke-width="0.7" opacity="0.92"/>
<line x1="445.9" y1="428.90" x2="445.9" y2="436.90" stroke="#d42a2e" stroke-width="0.7" opacity="0.92"/>
<line x1="338.0" y1="429.90" x2="338.0" y2="436.70" stroke="#8a8a8a" stroke-width="0.55" stroke-dasharray="0.9,2.1"/>
<line x1="464.6" y1="429.90" x2="464.6" y2="436.70" stroke="#8a8a8a" stroke-width="0.55" stroke-dasharray="0.9,2.1"/>
<rect x="333.4" y="428.40" width="136.1" height="9.10" fill="none" stroke="#444" stroke-width="0.95"/>
<line x1="333.4" y1="437.50" x2="469.5" y2="437.50" stroke="#444" stroke-width="0.5"/>
<line x1="469.6" y1="433.10" x2="471.8" y2="433.10" stroke="#333" stroke-width="0.7"/>
<path d="M338.10 437.50v1.1M349.55 437.50v1.1M359.80 437.50v1.1M370.05 437.50v1.1M380.30 437.50v1.1M390.55 437.50v1.1M400.80 437.50v1.1M411.05 437.50v1.1M421.30 437.50v1.1M431.55 437.50v1.1M441.80 437.50v1.1M452.05 437.50v1.1M462.30 437.50v1.1" stroke="#222" stroke-width="0.7"/>
<text x="338.10" y="442.60" font-size="3.7" fill="#444" text-anchor="middle" stroke="#444" stroke-width="0.12" textLength="5.74" lengthAdjust="spacingAndGlyphs" >&#8722;8.2</text>
<text x="349.55" y="442.60" font-size="3.7" fill="#444" text-anchor="middle" stroke="#444" stroke-width="0.12" textLength="2.96" lengthAdjust="spacingAndGlyphs" >&#8722;7</text>
<text x="359.80" y="442.60" font-size="3.7" fill="#444" text-anchor="middle" stroke="#444" stroke-width="0.12" textLength="2.96" lengthAdjust="spacingAndGlyphs" >&#8722;6</text>
<text x="370.05" y="442.60" font-size="3.7" fill="#444" text-anchor="middle" stroke="#444" stroke-width="0.12" textLength="2.96" lengthAdjust="spacingAndGlyphs" >&#8722;5</text>
<text x="380.30" y="442.60" font-size="3.7" fill="#444" text-anchor="middle" stroke="#444" stroke-width="0.12" textLength="2.96" lengthAdjust="spacingAndGlyphs" >&#8722;4</text>
<text x="390.55" y="442.60" font-size="3.7" fill="#444" text-anchor="middle" stroke="#444" stroke-width="0.12" textLength="2.96" lengthAdjust="spacingAndGlyphs" >&#8722;3</text>
<text x="400.80" y="442.60" font-size="3.7" fill="#444" text-anchor="middle" stroke="#444" stroke-width="0.12" textLength="2.96" lengthAdjust="spacingAndGlyphs" >&#8722;2</text>
<text x="411.05" y="442.60" font-size="3.7" fill="#444" text-anchor="middle" stroke="#444" stroke-width="0.12" textLength="2.96" lengthAdjust="spacingAndGlyphs" >&#8722;1</text>
<text x="421.30" y="442.60" font-size="3.7" fill="#444" text-anchor="middle" stroke="#444" stroke-width="0.12" textLength="1.85" lengthAdjust="spacingAndGlyphs" >0</text>
<text x="431.55" y="442.60" font-size="3.7" fill="#444" text-anchor="middle" stroke="#444" stroke-width="0.12" textLength="1.85" lengthAdjust="spacingAndGlyphs" >1</text>
<text x="441.80" y="442.60" font-size="3.7" fill="#444" text-anchor="middle" stroke="#444" stroke-width="0.12" textLength="1.85" lengthAdjust="spacingAndGlyphs" >2</text>
<text x="452.05" y="442.60" font-size="3.7" fill="#444" text-anchor="middle" stroke="#444" stroke-width="0.12" textLength="1.85" lengthAdjust="spacingAndGlyphs" >3</text>
<text x="462.30" y="442.60" font-size="3.7" fill="#444" text-anchor="middle" stroke="#444" stroke-width="0.12" textLength="1.85" lengthAdjust="spacingAndGlyphs" >4</text>
<text x="474.80" y="435.60" font-size="9.0" fill="#d02c2c" text-anchor="start" stroke="#d02c2c" stroke-width="0.12" >TRAF3</text>
<rect x="333.4" y="444.46" width="136.1" height="9.10" fill="url(#bg)"/>
<line x1="438.2" y1="444.96" x2="438.2" y2="452.96" stroke="#d42a2e" stroke-width="0.7" opacity="0.92"/>
<line x1="440.7" y1="444.96" x2="440.7" y2="452.96" stroke="#d42a2e" stroke-width="0.7" opacity="0.92"/>
<line x1="443.3" y1="444.96" x2="443.3" y2="452.96" stroke="#d42a2e" stroke-width="0.7" opacity="0.92"/>
<line x1="444.4" y1="444.96" x2="444.4" y2="452.96" stroke="#d42a2e" stroke-width="0.7" opacity="0.92"/>
<line x1="338.0" y1="445.96" x2="338.0" y2="452.76" stroke="#8a8a8a" stroke-width="0.55" stroke-dasharray="0.9,2.1"/>
<line x1="464.6" y1="445.96" x2="464.6" y2="452.76" stroke="#8a8a8a" stroke-width="0.55" stroke-dasharray="0.9,2.1"/>
<rect x="333.4" y="444.46" width="136.1" height="9.10" fill="none" stroke="#444" stroke-width="0.95"/>
<line x1="333.4" y1="453.56" x2="469.5" y2="453.56" stroke="#444" stroke-width="0.5"/>
<line x1="469.6" y1="449.16" x2="471.8" y2="449.16" stroke="#333" stroke-width="0.7"/>
<path d="M338.10 453.56v1.1M349.55 453.56v1.1M359.80 453.56v1.1M370.05 453.56v1.1M380.30 453.56v1.1M390.55 453.56v1.1M400.80 453.56v1.1M411.05 453.56v1.1M421.30 453.56v1.1M431.55 453.56v1.1M441.80 453.56v1.1M452.05 453.56v1.1M462.30 453.56v1.1" stroke="#222" stroke-width="0.7"/>
<text x="338.10" y="458.66" font-size="3.7" fill="#444" text-anchor="middle" stroke="#444" stroke-width="0.12" textLength="5.74" lengthAdjust="spacingAndGlyphs" >&#8722;8.2</text>
<text x="349.55" y="458.66" font-size="3.7" fill="#444" text-anchor="middle" stroke="#444" stroke-width="0.12" textLength="2.96" lengthAdjust="spacingAndGlyphs" >&#8722;7</text>
<text x="359.80" y="458.66" font-size="3.7" fill="#444" text-anchor="middle" stroke="#444" stroke-width="0.12" textLength="2.96" lengthAdjust="spacingAndGlyphs" >&#8722;6</text>
<text x="370.05" y="458.66" font-size="3.7" fill="#444" text-anchor="middle" stroke="#444" stroke-width="0.12" textLength="2.96" lengthAdjust="spacingAndGlyphs" >&#8722;5</text>
<text x="380.30" y="458.66" font-size="3.7" fill="#444" text-anchor="middle" stroke="#444" stroke-width="0.12" textLength="2.96" lengthAdjust="spacingAndGlyphs" >&#8722;4</text>
<text x="390.55" y="458.66" font-size="3.7" fill="#444" text-anchor="middle" stroke="#444" stroke-width="0.12" textLength="2.96" lengthAdjust="spacingAndGlyphs" >&#8722;3</text>
<text x="400.80" y="458.66" font-size="3.7" fill="#444" text-anchor="middle" stroke="#444" stroke-width="0.12" textLength="2.96" lengthAdjust="spacingAndGlyphs" >&#8722;2</text>
<text x="411.05" y="458.66" font-size="3.7" fill="#444" text-anchor="middle" stroke="#444" stroke-width="0.12" textLength="2.96" lengthAdjust="spacingAndGlyphs" >&#8722;1</text>
<text x="421.30" y="458.66" font-size="3.7" fill="#444" text-anchor="middle" stroke="#444" stroke-width="0.12" textLength="1.85" lengthAdjust="spacingAndGlyphs" >0</text>
<text x="431.55" y="458.66" font-size="3.7" fill="#444" text-anchor="middle" stroke="#444" stroke-width="0.12" textLength="1.85" lengthAdjust="spacingAndGlyphs" >1</text>
<text x="441.80" y="458.66" font-size="3.7" fill="#444" text-anchor="middle" stroke="#444" stroke-width="0.12" textLength="1.85" lengthAdjust="spacingAndGlyphs" >2</text>
<text x="452.05" y="458.66" font-size="3.7" fill="#444" text-anchor="middle" stroke="#444" stroke-width="0.12" textLength="1.85" lengthAdjust="spacingAndGlyphs" >3</text>
<text x="462.30" y="458.66" font-size="3.7" fill="#444" text-anchor="middle" stroke="#444" stroke-width="0.12" textLength="1.85" lengthAdjust="spacingAndGlyphs" >4</text>
<text x="474.80" y="451.66" font-size="9.0" fill="#d02c2c" text-anchor="start" stroke="#d02c2c" stroke-width="0.12" >RFX7</text>
<rect x="333.4" y="460.52" width="136.1" height="9.10" fill="url(#bg)"/>
<line x1="421.3" y1="461.02" x2="421.3" y2="469.02" stroke="#d42a2e" stroke-width="0.7" opacity="0.92"/>
<line x1="431.7" y1="461.02" x2="431.7" y2="469.02" stroke="#d42a2e" stroke-width="0.7" opacity="0.92"/>
<line x1="438.9" y1="461.02" x2="438.9" y2="469.02" stroke="#d42a2e" stroke-width="0.7" opacity="0.92"/>
<line x1="441.5" y1="461.02" x2="441.5" y2="469.02" stroke="#d42a2e" stroke-width="0.7" opacity="0.92"/>
<line x1="444.0" y1="461.02" x2="444.0" y2="469.02" stroke="#d42a2e" stroke-width="0.7" opacity="0.92"/>
<line x1="445.2" y1="461.02" x2="445.2" y2="469.02" stroke="#d42a2e" stroke-width="0.7" opacity="0.92"/>
<line x1="446.4" y1="461.02" x2="446.4" y2="469.02" stroke="#d42a2e" stroke-width="0.7" opacity="0.92"/>
<line x1="447.6" y1="461.02" x2="447.6" y2="469.02" stroke="#d42a2e" stroke-width="0.7" opacity="0.92"/>
<line x1="449.0" y1="461.02" x2="449.0" y2="469.02" stroke="#d42a2e" stroke-width="0.7" opacity="0.92"/>
<line x1="338.0" y1="462.02" x2="338.0" y2="468.82" stroke="#8a8a8a" stroke-width="0.55" stroke-dasharray="0.9,2.1"/>
<line x1="464.6" y1="462.02" x2="464.6" y2="468.82" stroke="#8a8a8a" stroke-width="0.55" stroke-dasharray="0.9,2.1"/>
<rect x="333.4" y="460.52" width="136.1" height="9.10" fill="none" stroke="#444" stroke-width="0.95"/>
<line x1="333.4" y1="469.62" x2="469.5" y2="469.62" stroke="#444" stroke-width="0.5"/>
<line x1="469.6" y1="465.22" x2="471.8" y2="465.22" stroke="#333" stroke-width="0.7"/>
<path d="M338.10 469.62v1.1M349.55 469.62v1.1M359.80 469.62v1.1M370.05 469.62v1.1M380.30 469.62v1.1M390.55 469.62v1.1M400.80 469.62v1.1M411.05 469.62v1.1M421.30 469.62v1.1M431.55 469.62v1.1M441.80 469.62v1.1M452.05 469.62v1.1M462.30 469.62v1.1" stroke="#222" stroke-width="0.7"/>
<text x="338.10" y="474.72" font-size="3.7" fill="#444" text-anchor="middle" stroke="#444" stroke-width="0.12" textLength="5.74" lengthAdjust="spacingAndGlyphs" >&#8722;8.2</text>
<text x="349.55" y="474.72" font-size="3.7" fill="#444" text-anchor="middle" stroke="#444" stroke-width="0.12" textLength="2.96" lengthAdjust="spacingAndGlyphs" >&#8722;7</text>
<text x="359.80" y="474.72" font-size="3.7" fill="#444" text-anchor="middle" stroke="#444" stroke-width="0.12" textLength="2.96" lengthAdjust="spacingAndGlyphs" >&#8722;6</text>
<text x="370.05" y="474.72" font-size="3.7" fill="#444" text-anchor="middle" stroke="#444" stroke-width="0.12" textLength="2.96" lengthAdjust="spacingAndGlyphs" >&#8722;5</text>
<text x="380.30" y="474.72" font-size="3.7" fill="#444" text-anchor="middle" stroke="#444" stroke-width="0.12" textLength="2.96" lengthAdjust="spacingAndGlyphs" >&#8722;4</text>
<text x="390.55" y="474.72" font-size="3.7" fill="#444" text-anchor="middle" stroke="#444" stroke-width="0.12" textLength="2.96" lengthAdjust="spacingAndGlyphs" >&#8722;3</text>
<text x="400.80" y="474.72" font-size="3.7" fill="#444" text-anchor="middle" stroke="#444" stroke-width="0.12" textLength="2.96" lengthAdjust="spacingAndGlyphs" >&#8722;2</text>
<text x="411.05" y="474.72" font-size="3.7" fill="#444" text-anchor="middle" stroke="#444" stroke-width="0.12" textLength="2.96" lengthAdjust="spacingAndGlyphs" >&#8722;1</text>
<text x="421.30" y="474.72" font-size="3.7" fill="#444" text-anchor="middle" stroke="#444" stroke-width="0.12" textLength="1.85" lengthAdjust="spacingAndGlyphs" >0</text>
<text x="431.55" y="474.72" font-size="3.7" fill="#444" text-anchor="middle" stroke="#444" stroke-width="0.12" textLength="1.85" lengthAdjust="spacingAndGlyphs" >1</text>
<text x="441.80" y="474.72" font-size="3.7" fill="#444" text-anchor="middle" stroke="#444" stroke-width="0.12" textLength="1.85" lengthAdjust="spacingAndGlyphs" >2</text>
<text x="452.05" y="474.72" font-size="3.7" fill="#444" text-anchor="middle" stroke="#444" stroke-width="0.12" textLength="1.85" lengthAdjust="spacingAndGlyphs" >3</text>
<text x="462.30" y="474.72" font-size="3.7" fill="#444" text-anchor="middle" stroke="#444" stroke-width="0.12" textLength="1.85" lengthAdjust="spacingAndGlyphs" >4</text>
<text x="474.80" y="467.72" font-size="9.0" fill="#d02c2c" text-anchor="start" stroke="#d02c2c" stroke-width="0.12" >AMBRA1</text>
<rect x="333.4" y="476.58" width="136.1" height="9.10" fill="url(#bg)"/>
<line x1="429.6" y1="477.08" x2="429.6" y2="485.08" stroke="#d42a2e" stroke-width="0.7" opacity="0.92"/>
<line x1="431.7" y1="477.08" x2="431.7" y2="485.08" stroke="#d42a2e" stroke-width="0.7" opacity="0.92"/>
<line x1="434.6" y1="477.08" x2="434.6" y2="485.08" stroke="#d42a2e" stroke-width="0.7" opacity="0.92"/>
<line x1="436.8" y1="477.08" x2="436.8" y2="485.08" stroke="#d42a2e" stroke-width="0.7" opacity="0.92"/>
<line x1="441.8" y1="477.08" x2="441.8" y2="485.08" stroke="#d42a2e" stroke-width="0.7" opacity="0.92"/>
<line x1="446.2" y1="477.08" x2="446.2" y2="485.08" stroke="#d42a2e" stroke-width="0.7" opacity="0.92"/>
<line x1="447.3" y1="477.08" x2="447.3" y2="485.08" stroke="#d42a2e" stroke-width="0.7" opacity="0.92"/>
<line x1="338.0" y1="478.08" x2="338.0" y2="484.88" stroke="#8a8a8a" stroke-width="0.55" stroke-dasharray="0.9,2.1"/>
<line x1="464.6" y1="478.08" x2="464.6" y2="484.88" stroke="#8a8a8a" stroke-width="0.55" stroke-dasharray="0.9,2.1"/>
<rect x="333.4" y="476.58" width="136.1" height="9.10" fill="none" stroke="#444" stroke-width="0.95"/>
<line x1="333.4" y1="485.68" x2="469.5" y2="485.68" stroke="#444" stroke-width="0.5"/>
<line x1="469.6" y1="481.28" x2="471.8" y2="481.28" stroke="#333" stroke-width="0.7"/>
<path d="M338.10 485.68v1.1M349.55 485.68v1.1M359.80 485.68v1.1M370.05 485.68v1.1M380.30 485.68v1.1M390.55 485.68v1.1M400.80 485.68v1.1M411.05 485.68v1.1M421.30 485.68v1.1M431.55 485.68v1.1M441.80 485.68v1.1M452.05 485.68v1.1M462.30 485.68v1.1" stroke="#222" stroke-width="0.7"/>
<text x="338.10" y="490.78" font-size="3.7" fill="#444" text-anchor="middle" stroke="#444" stroke-width="0.12" textLength="5.74" lengthAdjust="spacingAndGlyphs" >&#8722;8.2</text>
<text x="349.55" y="490.78" font-size="3.7" fill="#444" text-anchor="middle" stroke="#444" stroke-width="0.12" textLength="2.96" lengthAdjust="spacingAndGlyphs" >&#8722;7</text>
<text x="359.80" y="490.78" font-size="3.7" fill="#444" text-anchor="middle" stroke="#444" stroke-width="0.12" textLength="2.96" lengthAdjust="spacingAndGlyphs" >&#8722;6</text>
<text x="370.05" y="490.78" font-size="3.7" fill="#444" text-anchor="middle" stroke="#444" stroke-width="0.12" textLength="2.96" lengthAdjust="spacingAndGlyphs" >&#8722;5</text>
<text x="380.30" y="490.78" font-size="3.7" fill="#444" text-anchor="middle" stroke="#444" stroke-width="0.12" textLength="2.96" lengthAdjust="spacingAndGlyphs" >&#8722;4</text>
<text x="390.55" y="490.78" font-size="3.7" fill="#444" text-anchor="middle" stroke="#444" stroke-width="0.12" textLength="2.96" lengthAdjust="spacingAndGlyphs" >&#8722;3</text>
<text x="400.80" y="490.78" font-size="3.7" fill="#444" text-anchor="middle" stroke="#444" stroke-width="0.12" textLength="2.96" lengthAdjust="spacingAndGlyphs" >&#8722;2</text>
<text x="411.05" y="490.78" font-size="3.7" fill="#444" text-anchor="middle" stroke="#444" stroke-width="0.12" textLength="2.96" lengthAdjust="spacingAndGlyphs" >&#8722;1</text>
<text x="421.30" y="490.78" font-size="3.7" fill="#444" text-anchor="middle" stroke="#444" stroke-width="0.12" textLength="1.85" lengthAdjust="spacingAndGlyphs" >0</text>
<text x="431.55" y="490.78" font-size="3.7" fill="#444" text-anchor="middle" stroke="#444" stroke-width="0.12" textLength="1.85" lengthAdjust="spacingAndGlyphs" >1</text>
<text x="441.80" y="490.78" font-size="3.7" fill="#444" text-anchor="middle" stroke="#444" stroke-width="0.12" textLength="1.85" lengthAdjust="spacingAndGlyphs" >2</text>
<text x="452.05" y="490.78" font-size="3.7" fill="#444" text-anchor="middle" stroke="#444" stroke-width="0.12" textLength="1.85" lengthAdjust="spacingAndGlyphs" >3</text>
<text x="462.30" y="490.78" font-size="3.7" fill="#444" text-anchor="middle" stroke="#444" stroke-width="0.12" textLength="1.85" lengthAdjust="spacingAndGlyphs" >4</text>
<text x="474.80" y="483.78" font-size="9.0" fill="#d02c2c" text-anchor="start" stroke="#d02c2c" stroke-width="0.12" >KCTD5</text>
<text x="355.70" y="504.20" font-size="9.8" fill="#1a1a1a" text-anchor="start" stroke="#1a1a1a" stroke-width="0.45" textLength="91.00" lengthAdjust="spacingAndGlyphs" >Log<tspan font-size="6.8" dy="2.3">2</tspan><tspan dy="-2.3"> FC (CC-122 vs DMSO)</tspan></text>
<text x="7.80" y="385.70" font-size="12.9" fill="#000" text-anchor="start" stroke="#000" stroke-width="0.45" font-weight="bold" >D</text>
<rect x="188.4" y="388.8" width="97.8" height="297.3" fill="none" stroke="#111" stroke-width="1"/>
<text x="181.00" y="394.75" font-size="4.57" fill="#222" text-anchor="end" stroke="#222" stroke-width="0.07" >Neddylation</text>
<circle cx="281.78" cy="393.10" r="3.6" fill="#d3391f"/>
<text x="181.00" y="402.36" font-size="4.57" fill="#222" text-anchor="end" stroke="#222" stroke-width="0.07" >DNA Damage Recognition in GG-NER</text>
<circle cx="252.11" cy="400.71" r="3.15" fill="#d3391f"/>
<text x="181.00" y="409.97" font-size="4.57" fill="#222" text-anchor="end" stroke="#222" stroke-width="0.07" >Formation of TC-NER Pre-Incision Complex</text>
<circle cx="252.11" cy="408.32" r="3.15" fill="#d3391f"/>
<text x="181.00" y="417.58" font-size="4.57" fill="#222" text-anchor="end" stroke="#222" stroke-width="0.07" >Transcription-Coupled Nucleotide Excision Repair (TC-NER)</text>
<circle cx="252.11" cy="415.93" r="3.15" fill="#d3391f"/>
<text x="181.00" y="425.19" font-size="4.57" fill="#222" text-anchor="end" stroke="#222" stroke-width="0.07" >Global Genome Nucleotide Excision Repair (GG-NER)</text>
<circle cx="252.11" cy="423.54" r="3.15" fill="#d3391f"/>
<text x="181.00" y="432.80" font-size="4.57" fill="#222" text-anchor="end" stroke="#222" stroke-width="0.07" >Nucleotide Excision Repair</text>
<circle cx="252.11" cy="431.15" r="3.15" fill="#d3391f"/>
<text x="181.00" y="440.41" font-size="4.57" fill="#222" text-anchor="end" stroke="#222" stroke-width="0.07" >Cargo recognition for clathrin-mediated endocytosis</text>
<circle cx="242.22" cy="438.76" r="2.95" fill="#d3391f"/>
<text x="181.00" y="448.02" font-size="4.57" fill="#222" text-anchor="end" stroke="#222" stroke-width="0.07" >Clathrin-mediated endocytosis</text>
<circle cx="242.22" cy="446.37" r="2.95" fill="#d3391f"/>
<text x="181.00" y="455.63" font-size="4.57" fill="#222" text-anchor="end" stroke="#222" stroke-width="0.07" >RIG-I/MDA5 mediated induction of IFN-alpha/beta pathways</text>
<circle cx="232.33" cy="453.98" r="2.75" fill="#d3391f"/>
<text x="181.00" y="463.24" font-size="4.57" fill="#222" text-anchor="end" stroke="#222" stroke-width="0.07" >Deubiquitination</text>
<circle cx="232.33" cy="461.59" r="2.75" fill="#cf1f56"/>
<text x="181.00" y="470.85" font-size="4.57" fill="#222" text-anchor="end" stroke="#222" stroke-width="0.07" >MyD88-independent TLR3/TLR4 cascade</text>
<circle cx="222.44" cy="469.20" r="2.5" fill="#d3391f"/>
<text x="181.00" y="478.46" font-size="4.57" fill="#222" text-anchor="end" stroke="#222" stroke-width="0.07" >Toll Like Receptor 3 (TLR3) Cascade</text>
<circle cx="222.44" cy="476.81" r="2.5" fill="#d3391f"/>
<text x="181.00" y="486.07" font-size="4.57" fill="#222" text-anchor="end" stroke="#222" stroke-width="0.07" >TRIF-mediated TLR3/TLR4 signaling</text>
<circle cx="222.44" cy="484.42" r="2.5" fill="#d3391f"/>
<text x="181.00" y="493.68" font-size="4.57" fill="#222" text-anchor="end" stroke="#222" stroke-width="0.07" >Activated TLR4 signalling</text>
<circle cx="222.44" cy="492.03" r="2.5" fill="#d3391f"/>
<text x="181.00" y="501.29" font-size="4.57" fill="#222" text-anchor="end" stroke="#222" stroke-width="0.07" >Toll Like Receptor 4 (TLR4) Cascade</text>
<circle cx="222.44" cy="499.64" r="2.5" fill="#d3391f"/>
<text x="181.00" y="508.90" font-size="4.57" fill="#222" text-anchor="end" stroke="#222" stroke-width="0.07" >Toll-Like Receptors Cascades</text>
<circle cx="222.44" cy="507.25" r="2.5" fill="#d3391f"/>
<text x="181.00" y="516.51" font-size="4.57" fill="#222" text-anchor="end" stroke="#222" stroke-width="0.07" >Ub-specific processing proteases</text>
<circle cx="222.44" cy="514.86" r="2.5" fill="#d61c6e"/>
<text x="181.00" y="524.12" font-size="4.57" fill="#222" text-anchor="end" stroke="#222" stroke-width="0.07" >TRAF6 mediated NF-kB activation</text>
<circle cx="202.67" cy="522.47" r="2.05" fill="#d3391f"/>
<text x="181.00" y="531.73" font-size="4.57" fill="#222" text-anchor="end" stroke="#222" stroke-width="0.07" >Negative regulators of RIG-I/MDA5 signaling</text>
<circle cx="202.67" cy="530.08" r="2.05" fill="#d3391f"/>
<text x="181.00" y="539.34" font-size="4.57" fill="#222" text-anchor="end" stroke="#222" stroke-width="0.07" >TRAF6 Mediated Induction of proinflammatory cytokines</text>
<circle cx="202.67" cy="537.69" r="2.05" fill="#4a1f8b"/>
<text x="181.00" y="546.95" font-size="4.57" fill="#222" text-anchor="end" stroke="#222" stroke-width="0.07" >MyD88 cascade initiated on plasma membrane</text>
<circle cx="202.67" cy="545.30" r="2.05" fill="#4a1f8b"/>
<text x="181.00" y="554.56" font-size="4.57" fill="#222" text-anchor="end" stroke="#222" stroke-width="0.07" >Toll Like Receptor 10 (TLR10) Cascade</text>
<circle cx="202.67" cy="552.91" r="2.05" fill="#4a1f8b"/>
<text x="181.00" y="562.17" font-size="4.57" fill="#222" text-anchor="end" stroke="#222" stroke-width="0.07" >Toll Like Receptor 5 (TLR5) Cascade</text>
<circle cx="202.67" cy="560.52" r="2.05" fill="#4a1f8b"/>
<text x="181.00" y="569.78" font-size="4.57" fill="#222" text-anchor="end" stroke="#222" stroke-width="0.07" >TRAF6 mediated induction of NFkB and MAP kinases upon TLR7/8 or 9 activation</text>
<circle cx="202.67" cy="568.13" r="2.05" fill="#4a1f8b"/>
<text x="181.00" y="577.39" font-size="4.57" fill="#222" text-anchor="end" stroke="#222" stroke-width="0.07" >MyD88 dependent cascade initiated on endosome</text>
<circle cx="202.67" cy="575.74" r="2.05" fill="#4a1f8b"/>
<text x="181.00" y="585.00" font-size="4.57" fill="#222" text-anchor="end" stroke="#222" stroke-width="0.07" >MyD88:Mal cascade initiated on plasma membrane</text>
<circle cx="202.67" cy="583.35" r="2.05" fill="#4a1f8b"/>
<text x="181.00" y="592.61" font-size="4.57" fill="#222" text-anchor="end" stroke="#222" stroke-width="0.07" >Toll Like Receptor 2 (TLR2) Cascade</text>
<circle cx="202.67" cy="590.96" r="2.05" fill="#4a1f8b"/>
<text x="181.00" y="600.22" font-size="4.57" fill="#222" text-anchor="end" stroke="#222" stroke-width="0.07" >Toll Like Receptor 7/8 (TLR7/8) Cascade</text>
<circle cx="202.67" cy="598.57" r="2.05" fill="#4a1f8b"/>
<text x="181.00" y="607.83" font-size="4.57" fill="#222" text-anchor="end" stroke="#222" stroke-width="0.07" >Toll Like Receptor TLR1:TLR2 Cascade</text>
<circle cx="202.67" cy="606.18" r="2.05" fill="#4a1f8b"/>
<text x="181.00" y="615.44" font-size="4.57" fill="#222" text-anchor="end" stroke="#222" stroke-width="0.07" >Toll Like Receptor TLR6:TLR2 Cascade</text>
<circle cx="202.67" cy="613.79" r="2.05" fill="#4a1f8b"/>
<text x="181.00" y="623.05" font-size="4.57" fill="#222" text-anchor="end" stroke="#222" stroke-width="0.07" >Toll Like Receptor 9 (TLR9) Cascade</text>
<circle cx="202.67" cy="621.40" r="2.05" fill="#4a1f8b"/>
<text x="181.00" y="630.66" font-size="4.57" fill="#222" text-anchor="end" stroke="#222" stroke-width="0.07" >TNFR2 non-canonical NF-kB pathway</text>
<circle cx="202.67" cy="629.01" r="2.05" fill="#4a1f8b"/>
<text x="181.00" y="638.27" font-size="4.57" fill="#222" text-anchor="end" stroke="#222" stroke-width="0.07" >TNFR1-induced proapoptotic signaling</text>
<circle cx="192.78" cy="636.62" r="1.5" fill="#c8113f"/>
<text x="181.00" y="645.88" font-size="4.57" fill="#222" text-anchor="end" stroke="#222" stroke-width="0.07" >TNF receptor superfamily (TNFSF) members mediating non-canonical NF-kB pathway</text>
<circle cx="192.78" cy="644.23" r="1.5" fill="#bf1f86"/>
<text x="181.00" y="653.49" font-size="4.57" fill="#222" text-anchor="end" stroke="#222" stroke-width="0.07" >RIP-mediated NFkB activation via ZBP1</text>
<circle cx="192.78" cy="651.84" r="1.5" fill="#3a1a8b"/>
<text x="181.00" y="661.10" font-size="4.57" fill="#222" text-anchor="end" stroke="#222" stroke-width="0.07" >TNFR1-induced NFkappaB signaling pathway</text>
<circle cx="192.78" cy="659.45" r="1.5" fill="#3a1a8b"/>
<text x="181.00" y="668.71" font-size="4.57" fill="#222" text-anchor="end" stroke="#222" stroke-width="0.07" >ZBP1 (DAI) mediated induction of type I IFNs</text>
<circle cx="192.78" cy="667.06" r="1.5" fill="#3a1a8b"/>
<text x="181.00" y="676.32" font-size="4.57" fill="#222" text-anchor="end" stroke="#222" stroke-width="0.07" >TAK1 activates NFkB by phosphorylation and activation of IKKs complex</text>
<circle cx="192.78" cy="674.67" r="1.5" fill="#3a1a8b"/>
<text x="181.00" y="683.93" font-size="4.57" fill="#222" text-anchor="end" stroke="#222" stroke-width="0.07" >Regulation of TNFR1 signaling</text>
<circle cx="192.78" cy="682.28" r="1.5" fill="#3a1a8b"/>
<path d="M184.9 393.10h3.5M184.9 400.71h3.5M184.9 408.32h3.5M184.9 415.93h3.5M184.9 423.54h3.5M184.9 431.15h3.5M184.9 438.76h3.5M184.9 446.37h3.5M184.9 453.98h3.5M184.9 461.59h3.5M184.9 469.20h3.5M184.9 476.81h3.5M184.9 484.42h3.5M184.9 492.03h3.5M184.9 499.64h3.5M184.9 507.25h3.5M184.9 514.86h3.5M184.9 522.47h3.5M184.9 530.08h3.5M184.9 537.69h3.5M184.9 545.30h3.5M184.9 552.91h3.5M184.9 560.52h3.5M184.9 568.13h3.5M184.9 575.74h3.5M184.9 583.35h3.5M184.9 590.96h3.5M184.9 598.57h3.5M184.9 606.18h3.5M184.9 613.79h3.5M184.9 621.40h3.5M184.9 629.01h3.5M184.9 636.62h3.5M184.9 644.23h3.5M184.9 651.84h3.5M184.9 659.45h3.5M184.9 667.06h3.5M184.9 674.67h3.5M184.9 682.28h3.5" stroke="#222" stroke-width="0.8"/>
<line x1="208.6" y1="686.1" x2="208.6" y2="688.6" stroke="#222" stroke-width="0.8"/>
<text x="208.60" y="699.90" font-size="6.4" fill="#333" text-anchor="middle" stroke="#333" stroke-width="0.15" >0.1</text>
<line x1="243.9" y1="686.1" x2="243.9" y2="688.6" stroke="#222" stroke-width="0.8"/>
<text x="243.90" y="699.90" font-size="6.4" fill="#333" text-anchor="middle" stroke="#333" stroke-width="0.15" >0.2</text>
<line x1="279.85" y1="686.1" x2="279.85" y2="688.6" stroke="#222" stroke-width="0.8"/>
<text x="279.85" y="699.90" font-size="6.4" fill="#333" text-anchor="middle" stroke="#333" stroke-width="0.15" >0.3</text>
<text x="237.10" y="712.60" font-size="9.4" fill="#1a1a1a" text-anchor="middle" stroke="#1a1a1a" stroke-width="0.45" textLength="29.30" lengthAdjust="spacingAndGlyphs" >GeneRatio</text>
<text x="292.80" y="494.60" font-size="5.6" fill="#222" text-anchor="start" stroke="#222" stroke-width="0.15" >Count</text>
<circle cx="297.4" cy="500.4" r="1.2" fill="#000"/>
<text x="304.10" y="502.40" font-size="5.6" fill="#222" text-anchor="start" stroke="#222" stroke-width="0.15" >2</text>
<circle cx="297.4" cy="507.0" r="2.2" fill="#000"/>
<text x="304.10" y="509.00" font-size="5.6" fill="#222" text-anchor="start" stroke="#222" stroke-width="0.15" >4</text>
<circle cx="297.4" cy="514.3" r="2.7" fill="#000"/>
<text x="304.10" y="516.30" font-size="5.6" fill="#222" text-anchor="start" stroke="#222" stroke-width="0.15" >6</text>
<circle cx="297.4" cy="521.8" r="3.1" fill="#000"/>
<text x="304.10" y="523.80" font-size="5.6" fill="#222" text-anchor="start" stroke="#222" stroke-width="0.15" >8</text>
<circle cx="297.4" cy="530.6" r="3.55" fill="#000"/>
<text x="304.10" y="532.60" font-size="5.6" fill="#222" text-anchor="start" stroke="#222" stroke-width="0.15" >10</text>
<text x="292.80" y="546.80" font-size="5.6" fill="#222" text-anchor="start" stroke="#222" stroke-width="0.15" >p.adjust</text>
<rect x="293" y="550.4" width="6.9" height="34.4" fill="url(#pa)"/>
<text x="304.10" y="559.60" font-size="5.6" fill="#222" text-anchor="start" stroke="#222" stroke-width="0.15" >0.01</text>
<text x="304.10" y="567.00" font-size="5.6" fill="#222" text-anchor="start" stroke="#222" stroke-width="0.15" >0.02</text>
<text x="304.10" y="574.30" font-size="5.6" fill="#222" text-anchor="start" stroke="#222" stroke-width="0.15" >0.03</text>
<text x="304.10" y="581.50" font-size="5.6" fill="#222" text-anchor="start" stroke="#222" stroke-width="0.15" >0.04</text>
<rect x="0.5" y="0.5" width="518.8" height="721.8" fill="none" stroke="#000" stroke-width="1.2"/>
</svg>
</body></html>
